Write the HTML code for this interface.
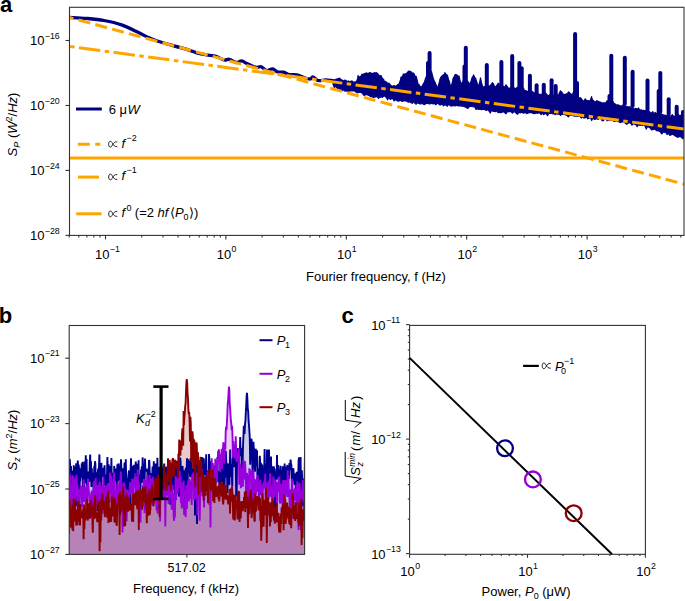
<!DOCTYPE html><html><head><meta charset="utf-8"><style>html,body{margin:0;padding:0;background:#fff;overflow:hidden;}svg{display:block;font-family:"Liberation Sans",sans-serif}</style></head><body><svg width="685" height="601" viewBox="0 0 685 601"><rect x="0" y="0" width="685" height="601" fill="#fff"/><text x="0.00" y="12.00" font-size="22" text-anchor="start" font-weight="bold" fill="#000">a</text><text x="-1.20" y="322.60" font-size="22" text-anchor="start" font-weight="bold" fill="#000">b</text><text x="341.50" y="322.80" font-size="22" text-anchor="start" font-weight="bold" fill="#000">c</text><svg x="69.5" y="7.3" width="614.5" height="228.1" viewBox="69.5 7.3 614.5 228.1" overflow="hidden"><path d="M69.50,17.40 C72.33,17.57 80.75,17.88 86.50,18.40 C92.25,18.92 98.15,19.42 104.00,20.50 C109.85,21.58 115.77,22.85 121.60,24.90 C127.43,26.95 134.63,30.75 139.00,32.80 C143.37,34.85 144.87,35.88 147.80,37.20 C150.73,38.52 152.23,39.25 156.60,40.70 C160.97,42.15 168.60,44.33 174.00,45.90 C179.40,47.47 185.03,48.88 189.00,50.10 C192.97,51.32 194.88,52.40 197.80,53.20 C200.72,54.00 203.58,54.42 206.50,54.90 C209.42,55.38 212.38,55.25 215.30,56.10 C218.22,56.95 221.67,59.47 224.00,60.00 C226.33,60.53 227.25,58.88 229.30,59.30 C231.35,59.72 234.25,62.23 236.30,62.50 C238.35,62.77 239.85,60.73 241.60,60.90 C243.35,61.07 244.77,62.52 246.80,63.50 C248.83,64.48 252.10,66.15 253.80,66.80 C255.50,67.45 255.75,67.40 257.00,67.40 C258.25,67.40 259.70,66.28 261.30,66.80 C262.90,67.32 264.73,70.17 266.60,70.50 C268.47,70.83 270.65,68.55 272.50,68.80 C274.35,69.05 275.83,71.43 277.70,72.00 C279.57,72.57 281.83,71.78 283.70,72.20 C285.57,72.62 286.72,74.07 288.90,74.50 C291.08,74.93 294.38,74.33 296.80,74.80 C299.22,75.27 301.20,76.60 303.40,77.30 C305.60,78.00 308.37,79.05 310.00,79.00 C311.63,78.95 311.90,76.75 313.20,77.00 C314.50,77.25 315.72,80.00 317.80,80.50 C319.88,81.00 323.50,80.00 325.70,80.00 C327.90,80.00 329.25,80.25 331.00,80.50 C332.75,80.75 335.33,81.33 336.20,81.50" fill="none" stroke="#000080" stroke-width="3.3" stroke-linecap="round" stroke-linejoin="round"/><polygon points="333.0,80.5 334.3,80.0 335.6,79.8 336.0,79.1 336.9,79.3 338.2,78.4 339.0,79.1 339.5,78.1 340.8,79.5 342.1,80.0 343.0,80.5 343.4,80.7 344.7,81.3 346.0,80.8 347.0,82.0 347.3,81.4 348.6,81.0 349.9,82.1 351.2,80.9 352.0,81.7 352.5,81.2 353.8,82.8 355.1,81.7 356.0,82.7 356.4,81.8 357.7,78.6 358.0,75.5 359.0,76.8 360.3,76.5 361.6,75.6 362.0,74.0 362.9,74.7 364.2,73.7 365.5,73.4 366.0,72.9 366.8,73.1 368.1,73.7 369.4,72.6 370.7,72.8 371.0,73.2 372.0,73.3 373.3,73.6 374.6,72.6 375.9,73.9 376.0,72.6 377.2,73.2 378.5,74.7 379.8,76.3 380.0,75.9 381.1,75.7 382.4,78.4 383.7,79.5 384.0,80.9 385.0,81.2 386.0,82.3 386.3,82.0 387.6,83.6 388.0,83.3 388.9,83.1 390.2,84.7 391.5,86.0 392.0,86.0 392.8,86.5 394.1,85.6 395.4,86.3 396.0,86.8 396.7,85.6 398.0,84.5 399.0,83.7 399.3,83.3 400.6,79.6 401.0,77.0 401.9,77.0 403.0,75.4 403.2,74.1 404.5,74.1 405.8,73.8 407.0,73.1 407.1,73.2 408.4,71.0 409.7,71.3 410.0,71.2 411.0,71.8 412.3,72.9 413.0,73.3 413.6,73.1 414.9,75.7 416.0,76.6 416.2,76.5 417.5,81.6 418.0,84.0 418.8,84.4 420.1,86.5 421.0,86.9 421.4,87.5 422.7,85.1 424.0,82.7 424.0,83.7 425.3,79.2 426.5,76.0 426.6,77.3 427.9,71.5 428.0,71.8 429.2,69.8 430.5,71.2 431.5,71.4 431.8,73.0 433.0,77.5 433.1,78.1 434.4,81.2 435.5,83.3 435.7,84.0 437.0,87.0 437.0,87.9 438.0,88.0 438.3,85.7 439.6,81.3 440.0,79.1 440.9,77.2 442.0,75.8 442.2,75.8 443.5,74.7 444.8,74.5 444.8,72.6 446.1,74.3 447.0,75.6 447.4,75.1 448.7,80.3 449.0,80.3 450.0,84.2 451.0,87.2 451.3,86.0 452.6,81.5 453.0,78.5 453.9,77.1 455.2,74.6 456.0,74.5 456.5,74.7 457.8,75.9 459.0,76.0 459.1,76.3 460.4,82.1 461.0,84.9 461.7,83.2 463.0,81.4 463.0,80.7 464.3,79.8 465.6,80.0 465.8,79.0 466.9,81.0 468.0,81.3 468.2,82.0 469.5,83.7 470.0,85.0 470.8,82.0 471.5,79.7 472.1,77.6 473.4,75.9 473.5,74.8 474.7,77.5 476.0,78.9 476.0,79.7 477.3,83.8 478.0,86.5 478.6,85.8 479.9,81.1 480.5,77.9 481.2,81.3 482.5,86.3 483.0,87.9 483.8,86.8 485.1,86.4 486.4,85.7 486.8,85.9 487.7,85.7 489.0,86.8 489.0,86.7 490.3,85.5 491.6,83.8 492.5,82.7 492.9,83.1 494.2,85.8 495.0,87.4 495.5,87.0 496.8,85.3 497.7,84.2 498.1,83.2 499.4,84.3 500.7,85.3 501.4,85.4 502.0,85.1 503.3,86.5 504.0,87.0 504.6,87.1 505.9,85.2 506.0,84.8 507.2,86.5 508.5,88.3 509.0,89.5 509.8,88.0 511.1,87.4 512.2,87.1 512.4,87.6 513.7,88.2 515.0,88.1 515.0,88.5 516.3,88.3 517.6,87.1 518.9,87.4 519.4,87.0 520.2,88.4 521.5,88.2 522.8,88.0 523.5,87.9 524.1,90.0 525.4,90.7 526.7,91.0 528.0,91.8 528.5,91.1 529.3,90.7 530.6,92.4 531.9,91.9 532.5,91.4 533.2,92.5 534.5,92.9 535.2,92.6 535.8,92.3 537.1,93.3 538.4,93.7 539.0,94.1 539.7,94.8 541.0,94.2 542.3,94.6 543.6,94.7 544.9,93.0 546.2,93.6 546.5,94.1 547.5,95.2 548.8,95.6 550.1,94.5 550.2,95.5 551.4,95.0 552.7,95.3 554.0,95.0 554.3,94.7 555.3,94.4 556.6,96.2 557.9,94.7 558.0,96.3 559.2,93.6 560.5,90.8 561.4,92.5 561.8,92.0 563.1,94.4 564.4,94.3 565.0,95.1 565.7,94.1 567.0,93.7 568.3,92.4 568.7,91.9 569.6,93.1 570.9,93.9 572.0,95.4 572.2,95.4 573.5,92.0 574.8,89.9 575.0,89.3 576.1,91.4 577.4,94.2 578.5,97.9 578.7,98.1 580.0,97.7 580.6,97.8 581.3,98.6 582.6,100.5 583.9,101.2 584.0,101.6 585.2,98.8 586.5,100.5 587.0,100.4 587.8,100.9 589.1,100.7 589.5,101.7 590.4,100.0 591.6,96.6 591.7,97.7 593.0,100.9 593.5,100.5 594.3,101.6 595.6,101.9 596.9,100.7 598.2,101.2 599.5,102.0 600.0,102.1 600.8,102.4 602.1,103.0 603.4,102.9 604.4,102.9 604.7,102.9 606.0,102.6 607.3,100.7 608.0,101.4 608.6,101.4 609.9,99.7 611.2,98.5 611.3,97.4 612.5,100.4 613.8,103.0 615.0,104.7 615.1,103.9 616.4,105.2 617.7,104.7 619.0,105.4 620.0,105.8 620.3,105.8 621.6,106.2 622.9,105.0 624.2,106.6 625.5,106.2 626.8,106.5 628.1,106.8 629.4,107.3 630.0,106.5 630.7,107.9 632.0,107.9 633.3,108.6 634.6,109.1 635.9,108.4 637.2,109.3 638.5,108.0 639.8,110.1 640.0,110.2 641.1,109.7 642.4,110.7 643.7,110.2 645.0,110.7 646.3,110.8 647.6,111.6 648.9,111.8 649.5,111.5 650.2,112.9 651.5,112.9 652.8,111.7 654.1,113.8 654.2,113.4 655.4,112.6 656.7,114.0 657.5,112.5 658.0,113.1 659.3,113.4 660.6,113.7 661.9,114.3 663.0,114.7 663.2,114.8 664.5,115.1 665.8,115.3 667.1,115.6 667.5,116.0 668.4,115.9 669.7,116.2 671.0,115.9 672.3,114.7 673.6,116.2 674.9,116.9 675.5,115.3 676.2,116.5 677.5,114.7 678.8,115.1 680.1,115.4 681.4,115.4 682.0,115.9 682.7,115.0 684.0,117.6 684.0,117.3 684.0,138.4 682.7,138.7 681.4,137.2 680.1,136.5 678.8,136.9 677.5,137.3 676.2,136.4 674.9,135.7 673.6,134.7 672.3,134.3 671.0,135.0 669.7,135.3 668.4,133.1 667.1,134.5 665.8,132.7 664.5,132.2 663.2,132.0 661.9,134.0 660.6,132.3 659.3,130.8 658.0,130.9 656.7,130.7 655.4,129.6 654.1,129.0 652.8,129.6 651.5,129.8 650.2,128.0 648.9,127.3 647.6,126.2 646.3,129.1 645.0,126.0 643.7,124.8 642.4,125.4 641.1,124.9 639.8,125.4 638.5,124.4 637.2,126.7 635.9,124.7 634.6,124.2 633.3,123.7 632.0,125.2 630.7,123.2 629.4,122.6 628.1,123.1 626.8,124.3 625.5,123.3 624.2,122.2 622.9,122.0 621.6,121.9 620.3,122.6 619.0,121.7 617.7,121.7 616.4,120.6 615.1,121.4 613.8,121.4 612.5,120.1 611.2,120.3 609.9,120.1 608.6,120.2 607.3,120.8 606.0,119.2 604.7,118.9 603.4,120.6 602.1,120.6 600.8,118.5 599.5,118.4 598.2,119.5 596.9,118.5 595.6,119.2 594.3,119.4 593.0,117.8 591.7,120.5 590.4,117.2 589.1,118.1 587.8,118.8 586.5,116.9 585.2,117.8 583.9,117.9 582.6,116.9 581.3,118.0 580.0,116.2 578.7,116.4 577.4,116.5 576.1,115.9 574.8,116.2 573.5,115.8 572.2,115.5 570.9,115.3 569.6,115.4 568.3,116.9 567.0,115.3 565.7,115.0 564.4,114.5 563.1,114.3 561.8,114.3 560.5,115.4 559.2,113.9 557.9,114.3 556.6,113.8 555.3,114.6 554.0,113.7 552.7,113.8 551.4,113.4 550.1,113.3 548.8,113.2 547.5,115.7 546.2,113.4 544.9,113.7 543.6,114.6 542.3,112.9 541.0,114.6 539.7,112.7 538.4,113.0 537.1,113.3 535.8,112.9 534.5,113.8 533.2,113.4 531.9,112.7 530.6,112.7 529.3,112.5 528.0,113.1 526.7,113.6 525.4,112.3 524.1,113.1 522.8,112.9 521.5,112.1 520.2,113.0 518.9,112.1 517.6,114.3 516.3,113.5 515.0,111.8 513.7,111.8 512.4,113.1 511.1,111.7 509.8,111.6 508.5,111.5 507.2,111.9 505.9,113.8 504.6,112.4 503.3,111.7 502.0,112.2 500.7,112.8 499.4,112.2 498.1,112.6 496.8,110.8 495.5,111.7 494.2,111.4 492.9,111.2 491.6,110.3 490.3,113.0 489.0,111.0 487.7,109.4 486.4,110.5 485.1,109.8 483.8,109.4 482.5,109.1 481.2,109.6 479.9,109.0 478.6,109.5 477.3,108.6 476.0,109.5 474.7,106.8 473.4,106.8 472.1,106.4 470.8,106.5 469.5,106.4 468.2,108.2 466.9,108.1 465.6,107.1 464.3,106.7 463.0,105.9 461.7,106.2 460.4,105.8 459.1,105.8 457.8,105.8 456.5,105.1 455.2,106.0 453.9,105.4 452.6,105.7 451.3,106.1 450.0,105.4 448.7,104.0 447.4,106.2 446.1,105.2 444.8,104.6 443.5,105.9 442.2,103.7 440.9,104.8 439.6,104.8 438.3,103.5 437.0,103.5 435.7,104.7 434.4,103.3 433.1,104.0 431.8,103.3 430.5,103.8 429.2,104.0 427.9,103.3 426.6,103.4 425.3,103.9 424.0,104.7 422.7,103.4 421.4,103.8 420.1,103.9 418.8,103.4 417.5,102.4 416.2,104.2 414.9,103.2 413.6,101.9 412.3,103.3 411.0,102.8 409.7,101.6 408.4,102.1 407.1,101.5 405.8,100.7 404.5,101.0 403.2,100.9 401.9,101.4 400.6,100.3 399.3,101.0 398.0,101.1 396.7,100.5 395.4,99.6 394.1,100.9 392.8,98.5 391.5,98.7 390.2,99.4 388.9,97.2 387.6,99.8 386.3,97.5 385.0,96.0 383.7,96.1 382.4,97.4 381.1,96.5 379.8,97.5 378.5,98.3 377.2,96.4 375.9,96.9 374.6,97.1 373.3,97.5 372.0,96.3 370.7,96.9 369.4,95.6 368.1,95.1 366.8,94.4 365.5,94.7 364.2,95.5 362.9,94.1 361.6,92.6 360.3,92.1 359.0,92.4 357.7,92.8 356.4,92.5 355.1,91.1 353.8,91.0 352.5,90.6 351.2,90.9 349.9,90.7 348.6,91.4 347.3,91.2 346.0,91.1 344.7,91.0 343.4,89.5 342.1,90.7 340.8,89.3 339.5,89.0 338.2,89.7 336.9,88.0 335.6,86.1 334.3,87.6 333.0,84.3" fill="#000080" stroke="#000080" stroke-width="1.2" stroke-linejoin="round"/><line x1="345" y1="81.45" x2="345" y2="84" stroke="#000080" stroke-width="4.0" stroke-linecap="round"/><line x1="429.6" y1="52.95" x2="429.6" y2="85" stroke="#000080" stroke-width="4.0" stroke-linecap="round"/><line x1="428" y1="62.95" x2="428" y2="80" stroke="#000080" stroke-width="4.0" stroke-linecap="round"/><line x1="465.8" y1="47.65" x2="465.8" y2="84" stroke="#000080" stroke-width="4.0" stroke-linecap="round"/><line x1="464.5" y1="66.45" x2="464.5" y2="80" stroke="#000080" stroke-width="4.0" stroke-linecap="round"/><line x1="486.8" y1="64.95" x2="486.8" y2="88" stroke="#000080" stroke-width="4.0" stroke-linecap="round"/><line x1="501.4" y1="61.95" x2="501.4" y2="88" stroke="#000080" stroke-width="4.0" stroke-linecap="round"/><line x1="512.2" y1="55.95" x2="512.2" y2="90" stroke="#000080" stroke-width="4.0" stroke-linecap="round"/><line x1="519.4" y1="62.95" x2="519.4" y2="90" stroke="#000080" stroke-width="4.0" stroke-linecap="round"/><line x1="521.7" y1="68.15" x2="521.7" y2="90" stroke="#000080" stroke-width="4.0" stroke-linecap="round"/><line x1="529.9" y1="75.65" x2="529.9" y2="92" stroke="#000080" stroke-width="4.0" stroke-linecap="round"/><line x1="536.6" y1="85.35" x2="536.6" y2="93" stroke="#000080" stroke-width="4.0" stroke-linecap="round"/><line x1="543.8" y1="84.65" x2="543.8" y2="95" stroke="#000080" stroke-width="4.0" stroke-linecap="round"/><line x1="551.6" y1="80.15" x2="551.6" y2="96" stroke="#000080" stroke-width="4.0" stroke-linecap="round"/><line x1="555.7" y1="85.95" x2="555.7" y2="96" stroke="#000080" stroke-width="4.0" stroke-linecap="round"/><line x1="575.1" y1="33.95" x2="575.1" y2="96" stroke="#000080" stroke-width="4.0" stroke-linecap="round"/><line x1="577" y1="82.95" x2="577" y2="96" stroke="#000080" stroke-width="4.0" stroke-linecap="round"/><line x1="611.3" y1="55.75" x2="611.3" y2="100" stroke="#000080" stroke-width="4.0" stroke-linecap="round"/><line x1="609.5" y1="95.95" x2="609.5" y2="100" stroke="#000080" stroke-width="4.0" stroke-linecap="round"/><line x1="624.8" y1="57.65" x2="624.8" y2="104" stroke="#000080" stroke-width="4.0" stroke-linecap="round"/><line x1="632.6" y1="71.75" x2="632.6" y2="106" stroke="#000080" stroke-width="4.0" stroke-linecap="round"/><line x1="647.5" y1="80.45" x2="647.5" y2="110" stroke="#000080" stroke-width="4.0" stroke-linecap="round"/><line x1="660.3" y1="72.95" x2="660.3" y2="112" stroke="#000080" stroke-width="4.0" stroke-linecap="round"/><line x1="658.7" y1="90.95" x2="658.7" y2="112" stroke="#000080" stroke-width="4.0" stroke-linecap="round"/><line x1="668.7" y1="99.15" x2="668.7" y2="114" stroke="#000080" stroke-width="4.0" stroke-linecap="round"/><line x1="676.7" y1="106.65" x2="676.7" y2="115" stroke="#000080" stroke-width="4.0" stroke-linecap="round"/><line x1="683" y1="111.95" x2="683" y2="115" stroke="#000080" stroke-width="4.0" stroke-linecap="round"/><line x1="69.5" y1="17.53" x2="684" y2="184.18" stroke="#ffa500" stroke-width="3" stroke-dasharray="12.05 5.33" stroke-dashoffset="7.95"/><line x1="69.5" y1="46.4" x2="684" y2="129.11" stroke="#ffa500" stroke-width="3" stroke-dasharray="21.5 4.46 4.46 4.46" stroke-dashoffset="25.3"/><line x1="69.50" y1="158.00" x2="684.00" y2="158.00" stroke="#ffa500" stroke-width="3" /></svg><rect x="69.5" y="7.3" width="614.5" height="228.1" fill="none" stroke="#333" stroke-width="1.1"/><line x1="69.26" y1="235.40" x2="69.26" y2="237.40" stroke="#333" stroke-width="1.1" /><line x1="78.79" y1="235.40" x2="78.79" y2="237.40" stroke="#333" stroke-width="1.1" /><line x1="86.85" y1="235.40" x2="86.85" y2="237.40" stroke="#333" stroke-width="1.1" /><line x1="93.83" y1="235.40" x2="93.83" y2="237.40" stroke="#333" stroke-width="1.1" /><line x1="99.99" y1="235.40" x2="99.99" y2="237.40" stroke="#333" stroke-width="1.1" /><line x1="105.50" y1="235.40" x2="105.50" y2="239.40" stroke="#333" stroke-width="1.1" /><line x1="141.74" y1="235.40" x2="141.74" y2="237.40" stroke="#333" stroke-width="1.1" /><line x1="162.95" y1="235.40" x2="162.95" y2="237.40" stroke="#333" stroke-width="1.1" /><line x1="177.99" y1="235.40" x2="177.99" y2="237.40" stroke="#333" stroke-width="1.1" /><line x1="189.66" y1="235.40" x2="189.66" y2="237.40" stroke="#333" stroke-width="1.1" /><line x1="199.19" y1="235.40" x2="199.19" y2="237.40" stroke="#333" stroke-width="1.1" /><line x1="207.25" y1="235.40" x2="207.25" y2="237.40" stroke="#333" stroke-width="1.1" /><line x1="214.23" y1="235.40" x2="214.23" y2="237.40" stroke="#333" stroke-width="1.1" /><line x1="220.39" y1="235.40" x2="220.39" y2="237.40" stroke="#333" stroke-width="1.1" /><line x1="225.90" y1="235.40" x2="225.90" y2="239.40" stroke="#333" stroke-width="1.1" /><line x1="262.14" y1="235.40" x2="262.14" y2="237.40" stroke="#333" stroke-width="1.1" /><line x1="283.35" y1="235.40" x2="283.35" y2="237.40" stroke="#333" stroke-width="1.1" /><line x1="298.39" y1="235.40" x2="298.39" y2="237.40" stroke="#333" stroke-width="1.1" /><line x1="310.06" y1="235.40" x2="310.06" y2="237.40" stroke="#333" stroke-width="1.1" /><line x1="319.59" y1="235.40" x2="319.59" y2="237.40" stroke="#333" stroke-width="1.1" /><line x1="327.65" y1="235.40" x2="327.65" y2="237.40" stroke="#333" stroke-width="1.1" /><line x1="334.63" y1="235.40" x2="334.63" y2="237.40" stroke="#333" stroke-width="1.1" /><line x1="340.79" y1="235.40" x2="340.79" y2="237.40" stroke="#333" stroke-width="1.1" /><line x1="346.30" y1="235.40" x2="346.30" y2="239.40" stroke="#333" stroke-width="1.1" /><line x1="382.54" y1="235.40" x2="382.54" y2="237.40" stroke="#333" stroke-width="1.1" /><line x1="403.75" y1="235.40" x2="403.75" y2="237.40" stroke="#333" stroke-width="1.1" /><line x1="418.79" y1="235.40" x2="418.79" y2="237.40" stroke="#333" stroke-width="1.1" /><line x1="430.46" y1="235.40" x2="430.46" y2="237.40" stroke="#333" stroke-width="1.1" /><line x1="439.99" y1="235.40" x2="439.99" y2="237.40" stroke="#333" stroke-width="1.1" /><line x1="448.05" y1="235.40" x2="448.05" y2="237.40" stroke="#333" stroke-width="1.1" /><line x1="455.03" y1="235.40" x2="455.03" y2="237.40" stroke="#333" stroke-width="1.1" /><line x1="461.19" y1="235.40" x2="461.19" y2="237.40" stroke="#333" stroke-width="1.1" /><line x1="466.70" y1="235.40" x2="466.70" y2="239.40" stroke="#333" stroke-width="1.1" /><line x1="502.94" y1="235.40" x2="502.94" y2="237.40" stroke="#333" stroke-width="1.1" /><line x1="524.15" y1="235.40" x2="524.15" y2="237.40" stroke="#333" stroke-width="1.1" /><line x1="539.19" y1="235.40" x2="539.19" y2="237.40" stroke="#333" stroke-width="1.1" /><line x1="550.86" y1="235.40" x2="550.86" y2="237.40" stroke="#333" stroke-width="1.1" /><line x1="560.39" y1="235.40" x2="560.39" y2="237.40" stroke="#333" stroke-width="1.1" /><line x1="568.45" y1="235.40" x2="568.45" y2="237.40" stroke="#333" stroke-width="1.1" /><line x1="575.43" y1="235.40" x2="575.43" y2="237.40" stroke="#333" stroke-width="1.1" /><line x1="581.59" y1="235.40" x2="581.59" y2="237.40" stroke="#333" stroke-width="1.1" /><line x1="587.10" y1="235.40" x2="587.10" y2="239.40" stroke="#333" stroke-width="1.1" /><line x1="623.34" y1="235.40" x2="623.34" y2="237.40" stroke="#333" stroke-width="1.1" /><line x1="644.55" y1="235.40" x2="644.55" y2="237.40" stroke="#333" stroke-width="1.1" /><line x1="659.59" y1="235.40" x2="659.59" y2="237.40" stroke="#333" stroke-width="1.1" /><line x1="671.26" y1="235.40" x2="671.26" y2="237.40" stroke="#333" stroke-width="1.1" /><line x1="680.79" y1="235.40" x2="680.79" y2="237.40" stroke="#333" stroke-width="1.1" /><text x="109.56" y="258.60" font-size="13" text-anchor="end" fill="#000">10</text><text x="109.86" y="252.30" font-size="8.8" text-anchor="start" fill="#000">−1</text><text x="231.13" y="258.60" font-size="13" text-anchor="end" fill="#000">10</text><text x="231.43" y="252.30" font-size="8.8" text-anchor="start" fill="#000">0</text><text x="351.53" y="258.60" font-size="13" text-anchor="end" fill="#000">10</text><text x="351.83" y="252.30" font-size="8.8" text-anchor="start" fill="#000">1</text><text x="471.93" y="258.60" font-size="13" text-anchor="end" fill="#000">10</text><text x="472.23" y="252.30" font-size="8.8" text-anchor="start" fill="#000">2</text><text x="592.33" y="258.60" font-size="13" text-anchor="end" fill="#000">10</text><text x="592.63" y="252.30" font-size="8.8" text-anchor="start" fill="#000">3</text><line x1="65.50" y1="40.50" x2="69.50" y2="40.50" stroke="#333" stroke-width="1.1" /><text x="44.50" y="45.00" font-size="13" text-anchor="end" fill="#000">10</text><text x="44.80" y="38.70" font-size="8.8" text-anchor="start" fill="#000">−16</text><line x1="65.50" y1="105.46" x2="69.50" y2="105.46" stroke="#333" stroke-width="1.1" /><text x="44.50" y="109.96" font-size="13" text-anchor="end" fill="#000">10</text><text x="44.80" y="103.66" font-size="8.8" text-anchor="start" fill="#000">−20</text><line x1="65.50" y1="170.42" x2="69.50" y2="170.42" stroke="#333" stroke-width="1.1" /><text x="44.50" y="174.92" font-size="13" text-anchor="end" fill="#000">10</text><text x="44.80" y="168.62" font-size="8.8" text-anchor="start" fill="#000">−24</text><line x1="65.50" y1="235.38" x2="69.50" y2="235.38" stroke="#333" stroke-width="1.1" /><text x="44.50" y="239.88" font-size="13" text-anchor="end" fill="#000">10</text><text x="44.80" y="233.58" font-size="8.8" text-anchor="start" fill="#000">−28</text><text x="376.00" y="281.00" font-size="13" text-anchor="middle" fill="#000">Fourier frequency, f (Hz)</text><g transform="translate(17,124.5) rotate(-90)"><text x="0" y="0" font-size="13" text-anchor="middle"><tspan font-style="italic">S</tspan><tspan font-size="9" dy="3" font-style="italic">P</tspan><tspan dy="-3"> (</tspan><tspan font-style="italic">W</tspan><tspan font-size="9" dy="-5">2</tspan><tspan dy="5">/</tspan><tspan font-style="italic">Hz</tspan>)</text></g><line x1="76.00" y1="109.00" x2="101.80" y2="109.00" stroke="#000080" stroke-width="3" /><text x="108.70" y="114.00" font-size="13" text-anchor="start" fill="#000">6 μ</text><text x="127.50" y="114.00" font-size="13" text-anchor="start" font-style="italic" fill="#000">W</text><line x1="77.8" y1="144.3" x2="101" y2="144.3" stroke="#ffa500" stroke-width="3" stroke-dasharray="12 5.5 5 100"/><path d="M117.30,141.80 C114.55,141.40 113.69,143.33 113.00,144.20 S111.71,147.10 110.42,147.10 C109.13,147.10 108.70,145.65 108.70,144.20 C108.70,142.75 109.13,141.30 110.42,141.30 C111.71,141.30 112.31,143.33 113.00,144.20 S114.55,147.00 117.30,146.60" fill="none" stroke="#000" stroke-width="0.85"/><text x="121.50" y="147.50" font-size="13" text-anchor="start" font-style="italic" fill="#000">f</text><text x="126.50" y="141.30" font-size="9" text-anchor="start" fill="#000">−2</text><line x1="78.00" y1="177.10" x2="99.00" y2="177.10" stroke="#ffa500" stroke-width="3" /><path d="M117.30,174.60 C114.55,174.20 113.69,176.13 113.00,177.00 S111.71,179.90 110.42,179.90 C109.13,179.90 108.70,178.45 108.70,177.00 C108.70,175.55 109.13,174.10 110.42,174.10 C111.71,174.10 112.31,176.13 113.00,177.00 S114.55,179.80 117.30,179.40" fill="none" stroke="#000" stroke-width="0.85"/><text x="121.50" y="179.50" font-size="13" text-anchor="start" font-style="italic" fill="#000">f</text><text x="126.50" y="173.30" font-size="9" text-anchor="start" fill="#000">−1</text><line x1="76.20" y1="213.80" x2="101.60" y2="213.80" stroke="#ffa500" stroke-width="3" /><path d="M117.30,211.50 C114.55,211.10 113.69,213.03 113.00,213.90 S111.71,216.80 110.42,216.80 C109.13,216.80 108.70,215.35 108.70,213.90 C108.70,212.45 109.13,211.00 110.42,211.00 C111.71,211.00 112.31,213.03 113.00,213.90 S114.55,216.70 117.30,216.30" fill="none" stroke="#000" stroke-width="0.85"/><text x="121.50" y="217.00" font-size="13" text-anchor="start" font-style="italic" fill="#000">f</text><text x="126.50" y="210.80" font-size="9" text-anchor="start" fill="#000">0</text><text x="134.80" y="217.00" font-size="13" text-anchor="start" fill="#000">(=2 </text><text x="157.50" y="217.00" font-size="13" text-anchor="start" font-style="italic" fill="#000">hf</text><text x="170.00" y="217.00" font-size="13" text-anchor="start" fill="#000">⟨</text><text x="175.00" y="217.00" font-size="13" text-anchor="start" font-style="italic" fill="#000">P</text><text x="183.50" y="220.00" font-size="9" text-anchor="start" fill="#000">0</text><text x="189.00" y="217.00" font-size="13" text-anchor="start" fill="#000">⟩)</text><svg x="69.2" y="325.5" width="235.40000000000003" height="228.89999999999998" viewBox="69.2 325.5 235.40000000000003 228.89999999999998" overflow="hidden"><polygon points="67.8,559.4 67.8,474.8 68.2,462.1 68.6,479.2 69.0,468.6 69.4,466.8 69.8,459.0 70.2,467.4 70.6,480.3 71.0,466.0 71.4,477.2 71.8,488.0 72.2,470.6 72.6,511.1 73.0,481.6 73.4,500.1 73.8,465.2 74.2,485.9 74.6,467.1 75.0,468.9 75.4,478.0 75.8,471.1 76.2,463.3 76.6,484.6 77.0,506.0 77.4,469.1 77.8,460.6 78.2,468.0 78.6,464.6 79.0,468.1 79.4,506.8 79.8,478.5 80.2,481.2 80.6,471.1 81.0,468.3 81.4,469.5 81.8,463.4 82.2,477.6 82.6,461.8 83.0,502.0 83.4,469.8 83.8,490.3 84.2,495.2 84.6,461.4 85.0,479.3 85.4,472.3 85.8,455.3 86.2,483.2 86.6,458.9 87.0,485.9 87.4,475.5 87.8,485.7 88.2,471.5 88.6,478.1 89.0,481.9 89.4,477.7 89.8,461.1 90.2,454.6 90.6,481.5 91.0,461.2 91.4,487.1 91.8,468.3 92.2,478.8 92.6,472.9 93.0,475.0 93.4,480.9 93.8,518.0 94.2,466.2 94.6,468.5 95.0,461.2 95.4,464.0 95.8,485.1 96.2,481.9 96.6,482.8 97.0,472.2 97.4,511.2 97.8,472.5 98.2,468.5 98.6,485.5 99.0,466.6 99.4,454.4 99.8,470.6 100.2,468.7 100.6,472.8 101.0,500.3 101.4,462.9 101.8,473.7 102.2,468.1 102.6,471.5 103.0,474.1 103.4,477.4 103.8,470.6 104.2,468.5 104.6,465.3 105.0,485.7 105.4,483.0 105.8,483.2 106.2,487.5 106.6,474.7 107.0,475.1 107.4,457.1 107.8,469.6 108.2,499.1 108.6,464.2 109.0,472.1 109.4,474.2 109.8,471.2 110.2,467.9 110.6,466.3 111.0,491.9 111.4,457.9 111.8,482.3 112.2,481.4 112.6,474.1 113.0,472.9 113.4,485.1 113.8,500.6 114.2,465.9 114.6,475.5 115.0,478.7 115.4,473.4 115.8,481.0 116.2,468.6 116.6,499.7 117.0,478.0 117.4,464.3 117.8,480.8 118.2,464.7 118.6,463.7 119.0,466.8 119.4,466.1 119.8,515.6 120.2,468.2 120.6,470.8 121.0,459.2 121.4,469.3 121.8,493.8 122.2,471.0 122.6,468.2 123.0,510.5 123.4,472.0 123.8,473.2 124.2,469.7 124.6,462.5 125.0,471.7 125.4,491.2 125.8,459.3 126.2,478.9 126.6,481.8 127.0,484.6 127.4,502.0 127.8,482.2 128.2,478.1 128.6,473.3 129.0,470.5 129.4,495.5 129.8,479.3 130.2,508.0 130.6,469.8 131.0,458.4 131.4,473.1 131.8,486.2 132.2,475.6 132.6,465.7 133.0,486.0 133.4,488.0 133.8,477.4 134.2,464.8 134.6,472.9 135.0,471.1 135.4,468.9 135.8,461.5 136.2,476.2 136.6,483.0 137.0,468.6 137.4,463.7 137.8,470.7 138.2,478.2 138.6,460.2 139.0,520.0 139.4,474.8 139.8,476.8 140.2,500.2 140.6,481.2 141.0,469.7 141.4,471.4 141.8,466.5 142.2,482.7 142.6,457.4 143.0,464.2 143.4,483.0 143.8,473.7 144.2,468.0 144.6,483.4 145.0,458.6 145.4,470.0 145.8,470.0 146.2,470.8 146.6,470.9 147.0,470.7 147.4,468.8 147.8,486.9 148.2,478.1 148.6,475.7 149.0,459.9 149.4,461.6 149.8,476.6 150.2,478.8 150.6,473.8 151.0,475.6 151.4,473.1 151.8,495.1 152.2,476.1 152.6,466.6 153.0,484.8 153.4,477.5 153.8,461.3 154.2,485.9 154.6,500.5 155.0,464.7 155.4,481.0 155.8,463.6 156.2,481.3 156.6,469.8 157.0,479.2 157.4,457.8 157.8,477.6 158.2,510.0 158.6,491.2 159.0,466.9 159.4,477.6 159.8,467.0 160.2,485.5 160.6,466.8 161.0,464.7 161.4,472.3 161.8,466.2 162.2,473.9 162.6,494.6 163.0,480.7 163.4,476.4 163.8,471.2 164.2,463.6 164.6,470.8 165.0,479.4 165.4,472.4 165.8,466.7 166.2,472.1 166.6,490.3 167.0,470.8 167.4,485.7 167.8,466.2 168.2,463.6 168.6,476.5 169.0,475.5 169.4,494.8 169.8,486.3 170.2,504.8 170.6,468.1 171.0,463.3 171.4,501.4 171.8,481.3 172.2,462.8 172.6,475.3 173.0,489.1 173.4,487.9 173.8,470.9 174.2,463.2 174.6,482.8 175.0,496.7 175.4,463.8 175.8,463.2 176.2,477.8 176.6,480.0 177.0,460.9 177.4,483.5 177.8,468.0 178.2,473.1 178.6,473.0 179.0,496.6 179.4,488.5 179.8,490.3 180.2,457.6 180.6,461.3 181.0,492.1 181.4,489.6 181.8,492.8 182.2,468.2 182.6,466.0 183.0,486.3 183.4,507.3 183.8,503.8 184.2,507.0 184.6,470.2 185.0,483.2 185.4,473.5 185.8,467.8 186.2,494.3 186.6,470.7 187.0,458.2 187.4,489.0 187.8,474.2 188.2,459.2 188.6,471.0 189.0,461.1 189.4,462.6 189.8,473.0 190.2,477.2 190.6,458.0 191.0,476.4 191.4,461.8 191.8,475.2 192.2,468.6 192.6,481.1 193.0,479.8 193.4,476.1 193.8,475.1 194.2,452.9 194.6,471.1 195.0,515.5 195.4,493.2 195.8,451.6 196.2,461.7 196.6,457.9 197.0,523.9 197.4,472.4 197.8,462.5 198.2,462.3 198.6,485.6 199.0,465.1 199.4,465.0 199.8,465.5 200.2,480.5 200.6,471.7 201.0,478.2 201.4,466.8 201.8,457.1 202.2,492.1 202.6,457.5 203.0,487.6 203.4,484.3 203.8,458.3 204.2,472.7 204.6,475.2 205.0,464.6 205.4,473.1 205.8,469.4 206.2,454.2 206.6,491.1 207.0,487.6 207.4,470.4 207.8,485.2 208.2,482.5 208.6,484.5 209.0,454.1 209.4,458.7 209.8,476.2 210.2,468.8 210.6,463.4 211.0,461.2 211.4,490.1 211.8,471.9 212.2,478.3 212.6,463.1 213.0,473.0 213.4,476.3 213.8,498.0 214.2,487.8 214.6,482.3 215.0,465.4 215.4,483.3 215.8,480.2 216.2,472.2 216.6,478.1 217.0,471.0 217.4,457.0 217.8,481.4 218.2,470.8 218.6,481.6 219.0,471.2 219.4,486.6 219.8,490.6 220.2,467.3 220.6,465.3 221.0,488.7 221.4,491.9 221.8,496.4 222.2,482.3 222.6,449.4 223.0,492.6 223.4,460.1 223.8,497.1 224.2,460.3 224.6,484.1 225.0,459.4 225.4,477.4 225.8,451.0 226.2,461.5 226.6,464.4 227.0,468.5 227.4,492.9 227.8,476.2 228.2,463.4 228.6,485.3 229.0,472.7 229.4,484.5 229.8,464.9 230.2,449.6 230.6,472.9 231.0,464.3 231.4,477.0 231.8,467.3 232.2,486.6 232.6,458.5 233.0,463.1 233.4,444.4 233.8,456.9 234.2,467.3 234.6,456.1 235.0,463.4 235.4,465.7 235.8,454.1 236.2,496.1 236.6,495.8 237.0,464.5 237.4,460.8 237.8,448.1 238.2,459.8 238.6,462.6 239.0,449.6 239.4,453.9 239.8,456.1 240.2,437.1 240.6,453.6 241.0,448.3 241.4,448.8 241.8,477.2 242.2,469.6 242.6,466.6 243.0,446.8 243.4,436.8 243.8,425.8 244.2,433.8 244.6,433.0 245.0,424.1 245.4,421.2 245.8,412.5 246.2,405.7 246.6,396.9 247.0,392.8 247.4,399.4 247.8,409.2 248.2,411.7 248.6,420.7 249.0,425.2 249.4,431.3 249.8,438.5 250.2,464.7 250.6,456.1 251.0,454.8 251.4,438.7 251.8,441.9 252.2,451.2 252.6,477.0 253.0,454.2 253.4,441.7 253.8,448.2 254.2,450.7 254.6,465.1 255.0,471.8 255.4,457.0 255.8,448.7 256.2,465.7 256.6,457.8 257.0,450.2 257.4,475.9 257.8,469.0 258.2,491.6 258.6,480.6 259.0,502.4 259.4,469.4 259.8,455.8 260.2,462.2 260.6,466.1 261.0,463.0 261.4,491.5 261.8,484.6 262.2,464.6 262.6,478.6 263.0,478.5 263.4,472.5 263.8,483.4 264.2,469.8 264.6,449.0 265.0,469.6 265.4,476.0 265.8,464.8 266.2,466.8 266.6,506.4 267.0,449.6 267.4,472.7 267.8,492.3 268.2,462.4 268.6,463.7 269.0,449.6 269.4,494.5 269.8,457.5 270.2,461.1 270.6,491.2 271.0,456.6 271.4,478.8 271.8,491.1 272.2,466.2 272.6,496.7 273.0,472.9 273.4,473.5 273.8,466.4 274.2,470.6 274.6,468.7 275.0,515.4 275.4,477.0 275.8,475.6 276.2,471.0 276.6,479.7 277.0,455.1 277.4,478.2 277.8,469.2 278.2,465.0 278.6,470.2 279.0,489.1 279.4,478.7 279.8,470.4 280.2,484.0 280.6,465.7 281.0,471.2 281.4,471.4 281.8,496.1 282.2,476.4 282.6,479.9 283.0,466.2 283.4,482.6 283.8,477.9 284.2,478.8 284.6,463.6 285.0,488.9 285.4,483.5 285.8,492.4 286.2,466.4 286.6,487.8 287.0,472.8 287.4,464.9 287.8,495.5 288.2,470.8 288.6,470.7 289.0,478.7 289.4,463.1 289.8,470.2 290.2,466.4 290.6,459.5 291.0,464.0 291.4,465.0 291.8,481.8 292.2,469.6 292.6,476.2 293.0,471.8 293.4,468.2 293.8,478.3 294.2,481.2 294.6,485.0 295.0,474.4 295.4,473.8 295.8,491.6 296.2,500.0 296.6,472.7 297.0,472.2 297.4,493.3 297.8,479.8 298.2,477.2 298.6,460.5 299.0,457.4 299.4,483.4 299.8,469.4 300.2,464.7 300.6,457.1 301.0,494.5 301.4,480.0 301.8,470.3 302.2,479.5 302.6,478.6 303.0,506.3 303.4,498.9 303.8,483.7 304.2,490.7 304.6,477.9 305.0,451.6 305.4,484.2 305.8,478.3 306.2,500.1 306.2,559.4" fill="#000090" fill-opacity="0.2" stroke="none"/><polygon points="68.1,559.4 68.1,512.3 68.5,510.7 68.9,483.9 69.3,497.3 69.7,488.3 70.1,474.4 70.5,478.5 70.9,504.1 71.3,508.3 71.7,491.1 72.1,485.1 72.5,500.9 72.9,475.3 73.3,504.4 73.7,476.7 74.1,481.8 74.5,495.6 74.9,499.6 75.3,489.3 75.7,502.0 76.1,483.4 76.5,474.8 76.9,484.5 77.3,487.5 77.7,488.1 78.1,513.0 78.5,506.8 78.9,489.2 79.3,503.9 79.7,498.2 80.1,491.2 80.5,489.4 80.9,485.7 81.3,487.2 81.7,488.8 82.1,507.6 82.5,487.2 82.9,499.8 83.3,487.8 83.7,479.5 84.1,501.6 84.5,494.3 84.9,490.7 85.3,491.5 85.7,510.5 86.1,486.2 86.5,493.2 86.9,492.5 87.3,501.3 87.7,483.9 88.1,478.7 88.5,486.1 88.9,492.8 89.3,493.1 89.7,500.5 90.1,518.8 90.5,506.1 90.9,498.3 91.3,497.5 91.7,490.5 92.1,512.2 92.5,506.9 92.9,502.1 93.3,503.3 93.7,491.1 94.1,481.8 94.5,481.7 94.9,499.4 95.3,496.4 95.7,477.9 96.1,501.1 96.5,505.7 96.9,493.2 97.3,485.1 97.7,494.0 98.1,494.9 98.5,490.5 98.9,505.1 99.3,483.9 99.7,482.0 100.1,491.2 100.5,490.8 100.9,503.6 101.3,485.8 101.7,497.7 102.1,501.5 102.5,513.9 102.9,497.0 103.3,476.8 103.7,487.1 104.1,500.5 104.5,496.0 104.9,514.4 105.3,490.4 105.7,486.2 106.1,496.7 106.5,485.6 106.9,505.0 107.3,497.1 107.7,487.3 108.1,483.2 108.5,498.3 108.9,489.1 109.3,497.1 109.7,502.4 110.1,472.6 110.5,490.3 110.9,494.9 111.3,475.8 111.7,478.5 112.1,503.5 112.5,498.2 112.9,482.1 113.3,487.6 113.7,488.2 114.1,472.6 114.5,490.0 114.9,498.3 115.3,497.3 115.7,501.5 116.1,489.5 116.5,510.8 116.9,497.6 117.3,483.6 117.7,493.2 118.1,487.6 118.5,504.6 118.9,503.4 119.3,485.7 119.7,480.3 120.1,498.4 120.5,480.4 120.9,471.6 121.3,488.2 121.7,508.1 122.1,484.4 122.5,532.6 122.9,484.5 123.3,488.9 123.7,482.4 124.1,492.9 124.5,484.3 124.9,509.5 125.3,487.7 125.7,512.1 126.1,497.4 126.5,521.4 126.9,509.2 127.3,489.7 127.7,492.2 128.1,496.3 128.5,502.4 128.9,491.3 129.3,498.0 129.7,489.2 130.1,482.4 130.5,486.2 130.9,485.0 131.3,492.7 131.7,493.3 132.1,478.9 132.5,486.4 132.9,487.4 133.3,502.7 133.7,488.7 134.1,479.8 134.5,478.3 134.9,480.0 135.3,479.3 135.7,476.7 136.1,496.7 136.5,502.0 136.9,478.7 137.3,482.3 137.7,469.5 138.1,483.5 138.5,499.0 138.9,482.0 139.3,492.7 139.7,518.3 140.1,512.9 140.5,522.6 140.9,497.9 141.3,496.0 141.7,495.3 142.1,498.9 142.5,496.0 142.9,485.2 143.3,507.0 143.7,478.9 144.1,480.7 144.5,513.2 144.9,486.7 145.3,509.7 145.7,494.0 146.1,479.9 146.5,505.7 146.9,492.8 147.3,474.7 147.7,493.1 148.1,487.8 148.5,494.6 148.9,488.6 149.3,495.4 149.7,475.0 150.1,484.9 150.5,510.5 150.9,478.7 151.3,482.3 151.7,493.1 152.1,504.8 152.5,490.6 152.9,476.7 153.3,506.6 153.7,482.2 154.1,492.6 154.5,498.6 154.9,483.4 155.3,486.7 155.7,502.2 156.1,491.6 156.5,510.2 156.9,496.3 157.3,508.9 157.7,513.7 158.1,506.9 158.5,505.7 158.9,492.7 159.3,497.0 159.7,482.2 160.1,521.5 160.5,481.4 160.9,486.8 161.3,480.2 161.7,481.5 162.1,495.9 162.5,498.0 162.9,483.9 163.3,499.9 163.7,479.6 164.1,488.5 164.5,482.5 164.9,480.5 165.3,526.6 165.7,495.7 166.1,492.0 166.5,495.3 166.9,492.3 167.3,493.0 167.7,485.9 168.1,490.0 168.5,503.7 168.9,501.5 169.3,487.6 169.7,484.9 170.1,498.1 170.5,486.6 170.9,478.5 171.3,497.8 171.7,509.8 172.1,485.0 172.5,485.8 172.9,499.0 173.3,493.5 173.7,516.2 174.1,520.8 174.5,499.1 174.9,517.5 175.3,493.7 175.7,475.9 176.1,500.3 176.5,478.2 176.9,494.3 177.3,490.4 177.7,493.8 178.1,477.6 178.5,479.7 178.9,487.6 179.3,486.3 179.7,470.8 180.1,484.5 180.5,476.4 180.9,503.1 181.3,484.7 181.7,508.5 182.1,482.7 182.5,493.3 182.9,505.4 183.3,488.2 183.7,480.6 184.1,514.9 184.5,502.1 184.9,489.8 185.3,512.0 185.7,517.0 186.1,486.9 186.5,485.0 186.9,509.1 187.3,488.6 187.7,491.4 188.1,480.5 188.5,487.1 188.9,501.5 189.3,478.5 189.7,486.0 190.1,490.6 190.5,480.6 190.9,499.1 191.3,482.0 191.7,505.0 192.1,479.6 192.5,474.1 192.9,488.5 193.3,472.5 193.7,481.1 194.1,499.1 194.5,499.8 194.9,483.4 195.3,498.2 195.7,472.8 196.1,491.2 196.5,497.5 196.9,472.8 197.3,515.0 197.7,483.0 198.1,472.1 198.5,478.1 198.9,485.7 199.3,476.4 199.7,520.7 200.1,500.8 200.5,483.1 200.9,486.3 201.3,483.8 201.7,468.9 202.1,477.7 202.5,496.2 202.9,489.0 203.3,483.8 203.7,487.4 204.1,507.6 204.5,485.1 204.9,481.8 205.3,482.0 205.7,482.7 206.1,481.8 206.5,481.0 206.9,480.5 207.3,482.1 207.7,471.8 208.1,489.9 208.5,480.6 208.9,485.6 209.3,504.9 209.7,489.1 210.1,484.3 210.5,527.6 210.9,478.3 211.3,492.4 211.7,458.2 212.1,481.3 212.5,479.6 212.9,464.6 213.3,475.9 213.7,469.4 214.1,475.0 214.5,483.1 214.9,485.4 215.3,458.8 215.7,466.9 216.1,480.9 216.5,472.7 216.9,482.2 217.3,462.2 217.7,462.1 218.1,450.9 218.5,459.7 218.9,449.3 219.3,453.1 219.7,466.0 220.1,472.1 220.5,458.6 220.9,454.2 221.3,462.6 221.7,448.8 222.1,469.1 222.5,451.7 222.9,450.7 223.3,443.1 223.7,443.2 224.1,456.2 224.5,463.7 224.9,444.1 225.3,449.4 225.7,431.4 226.1,426.9 226.5,430.0 226.9,422.7 227.3,414.9 227.7,404.3 228.1,400.1 228.5,393.8 228.9,386.6 229.3,389.7 229.7,403.0 230.1,407.6 230.5,414.8 230.9,420.8 231.3,423.9 231.7,430.3 232.1,425.8 232.5,435.7 232.9,456.9 233.3,441.0 233.7,448.0 234.1,447.0 234.5,448.8 234.9,458.4 235.3,456.1 235.7,436.2 236.1,448.4 236.5,461.5 236.9,461.2 237.3,452.4 237.7,458.0 238.1,457.0 238.5,457.8 238.9,448.5 239.3,484.7 239.7,463.7 240.1,465.6 240.5,478.5 240.9,488.3 241.3,473.6 241.7,483.6 242.1,468.3 242.5,471.7 242.9,486.8 243.3,459.8 243.7,465.1 244.1,461.6 244.5,479.6 244.9,461.2 245.3,465.5 245.7,477.2 246.1,501.1 246.5,493.8 246.9,473.0 247.3,475.9 247.7,486.3 248.1,505.5 248.5,476.7 248.9,493.8 249.3,469.3 249.7,469.4 250.1,474.6 250.5,471.5 250.9,470.3 251.3,499.6 251.7,481.1 252.1,503.2 252.5,487.8 252.9,474.4 253.3,470.0 253.7,477.7 254.1,498.0 254.5,493.6 254.9,479.4 255.3,489.4 255.7,495.1 256.1,492.2 256.5,488.1 256.9,476.3 257.3,484.2 257.7,475.2 258.1,488.3 258.5,489.0 258.9,482.6 259.3,499.7 259.7,489.4 260.1,479.8 260.5,484.0 260.9,491.2 261.3,494.9 261.7,484.8 262.1,490.3 262.5,498.6 262.9,488.4 263.3,485.9 263.7,488.6 264.1,481.6 264.5,483.9 264.9,481.4 265.3,473.8 265.7,506.2 266.1,501.2 266.5,488.9 266.9,483.8 267.3,482.5 267.7,490.0 268.1,487.2 268.5,499.9 268.9,480.8 269.3,496.8 269.7,481.6 270.1,473.4 270.5,489.2 270.9,485.0 271.3,497.5 271.7,490.0 272.1,492.9 272.5,500.8 272.9,492.2 273.3,476.4 273.7,486.3 274.1,481.9 274.5,497.0 274.9,494.7 275.3,479.3 275.7,492.8 276.1,486.7 276.5,484.0 276.9,507.2 277.3,482.1 277.7,492.1 278.1,488.2 278.5,488.3 278.9,477.5 279.3,477.4 279.7,500.6 280.1,503.4 280.5,502.4 280.9,484.9 281.3,484.1 281.7,493.1 282.1,484.5 282.5,508.8 282.9,480.3 283.3,492.5 283.7,500.9 284.1,491.0 284.5,480.0 284.9,511.2 285.3,480.8 285.7,482.0 286.1,486.4 286.5,493.4 286.9,479.8 287.3,497.1 287.7,470.6 288.1,488.5 288.5,475.5 288.9,497.3 289.3,491.9 289.7,504.9 290.1,507.2 290.5,491.7 290.9,489.4 291.3,499.6 291.7,485.2 292.1,478.8 292.5,490.9 292.9,490.7 293.3,519.1 293.7,500.4 294.1,498.7 294.5,490.8 294.9,488.3 295.3,492.5 295.7,500.8 296.1,497.4 296.5,484.6 296.9,514.4 297.3,481.3 297.7,492.4 298.1,506.3 298.5,529.9 298.9,501.6 299.3,486.2 299.7,483.0 300.1,505.6 300.5,500.7 300.9,530.6 301.3,499.6 301.7,492.6 302.1,491.7 302.5,490.3 302.9,480.1 303.3,501.6 303.7,494.5 304.1,487.0 304.5,508.1 304.9,494.4 305.3,489.2 305.7,487.6 306.1,499.1 306.5,507.6 306.5,559.4" fill="#9900dd" fill-opacity="0.2" stroke="none"/><polygon points="68.0,559.4 68.0,511.0 68.4,509.3 68.8,534.0 69.2,515.6 69.6,499.5 70.0,526.8 70.4,505.5 70.8,512.0 71.2,527.7 71.6,509.3 72.0,519.4 72.4,529.6 72.8,505.8 73.2,531.3 73.6,498.4 74.0,506.8 74.4,516.0 74.8,521.4 75.2,499.8 75.6,516.2 76.0,520.7 76.4,525.7 76.8,517.0 77.2,509.5 77.6,524.9 78.0,505.9 78.4,500.8 78.8,519.5 79.2,521.0 79.6,511.7 80.0,525.5 80.4,504.1 80.8,511.0 81.2,514.1 81.6,518.5 82.0,511.5 82.4,512.5 82.8,515.2 83.2,508.2 83.6,539.3 84.0,504.5 84.4,529.1 84.8,507.8 85.2,520.5 85.6,517.3 86.0,518.5 86.4,516.8 86.8,513.6 87.2,498.7 87.6,520.6 88.0,518.2 88.4,512.3 88.8,504.4 89.2,504.2 89.6,517.6 90.0,517.9 90.4,504.9 90.8,516.6 91.2,500.3 91.6,513.8 92.0,510.0 92.4,519.4 92.8,532.7 93.2,505.2 93.6,510.5 94.0,519.3 94.4,504.5 94.8,514.7 95.2,494.9 95.6,506.7 96.0,518.5 96.4,514.1 96.8,512.4 97.2,522.0 97.6,521.5 98.0,512.4 98.4,514.5 98.8,505.9 99.2,501.1 99.6,551.2 100.0,510.7 100.4,542.3 100.8,499.7 101.2,520.6 101.6,501.7 102.0,495.9 102.4,493.6 102.8,505.6 103.2,510.1 103.6,501.6 104.0,503.1 104.4,509.1 104.8,517.1 105.2,505.5 105.6,502.4 106.0,497.7 106.4,496.8 106.8,512.8 107.2,517.6 107.6,495.5 108.0,490.4 108.4,522.9 108.8,499.8 109.2,520.7 109.6,521.7 110.0,507.6 110.4,508.5 110.8,521.6 111.2,520.5 111.6,496.3 112.0,498.9 112.4,511.1 112.8,516.4 113.2,506.4 113.6,499.5 114.0,498.1 114.4,522.5 114.8,499.7 115.2,503.8 115.6,503.4 116.0,517.6 116.4,523.6 116.8,525.8 117.2,507.5 117.6,503.9 118.0,506.4 118.4,502.1 118.8,494.8 119.2,501.9 119.6,534.9 120.0,491.7 120.4,495.9 120.8,512.6 121.2,495.0 121.6,510.4 122.0,505.3 122.4,495.2 122.8,495.5 123.2,486.2 123.6,507.0 124.0,526.6 124.4,503.2 124.8,497.7 125.2,525.9 125.6,501.3 126.0,495.3 126.4,501.2 126.8,493.7 127.2,506.1 127.6,511.7 128.0,510.7 128.4,496.9 128.8,499.1 129.2,507.6 129.6,509.8 130.0,510.1 130.4,504.1 130.8,509.9 131.2,507.7 131.6,506.9 132.0,521.4 132.4,495.2 132.8,494.9 133.2,521.9 133.6,494.1 134.0,494.2 134.4,494.0 134.8,497.1 135.2,505.1 135.6,492.8 136.0,503.9 136.4,491.1 136.8,497.1 137.2,509.1 137.6,495.3 138.0,498.3 138.4,489.6 138.8,529.9 139.2,496.1 139.6,508.3 140.0,495.0 140.4,494.7 140.8,489.7 141.2,499.7 141.6,497.2 142.0,509.7 142.4,503.0 142.8,487.8 143.2,501.4 143.6,487.1 144.0,490.4 144.4,500.2 144.8,489.3 145.2,503.1 145.6,486.2 146.0,508.7 146.4,494.8 146.8,523.3 147.2,496.7 147.6,504.3 148.0,514.6 148.4,491.7 148.8,515.7 149.2,495.1 149.6,488.8 150.0,514.5 150.4,494.4 150.8,500.4 151.2,496.5 151.6,502.4 152.0,484.4 152.4,501.2 152.8,495.0 153.2,493.0 153.6,505.9 154.0,499.5 154.4,487.6 154.8,498.2 155.2,478.7 155.6,487.7 156.0,478.1 156.4,483.8 156.8,498.2 157.2,478.3 157.6,485.5 158.0,476.9 158.4,474.6 158.8,499.6 159.2,493.3 159.6,516.9 160.0,488.7 160.4,481.2 160.8,477.2 161.2,485.2 161.6,488.4 162.0,481.4 162.4,478.3 162.8,483.8 163.2,481.5 163.6,489.7 164.0,465.6 164.4,479.8 164.8,481.8 165.2,473.4 165.6,472.8 166.0,483.5 166.4,491.3 166.8,477.8 167.2,486.9 167.6,478.1 168.0,458.3 168.4,472.0 168.8,463.5 169.2,482.1 169.6,460.0 170.0,463.0 170.4,474.1 170.8,490.8 171.2,469.0 171.6,476.5 172.0,477.4 172.4,459.4 172.8,459.1 173.2,458.2 173.6,471.1 174.0,476.5 174.4,467.9 174.8,459.7 175.2,463.4 175.6,460.2 176.0,467.9 176.4,462.4 176.8,462.8 177.2,469.2 177.6,463.7 178.0,478.0 178.4,453.5 178.8,466.5 179.2,439.5 179.6,449.6 180.0,442.1 180.4,455.7 180.8,440.6 181.2,444.6 181.6,449.9 182.0,433.7 182.4,428.2 182.8,439.3 183.2,445.7 183.6,410.9 184.0,425.1 184.4,417.5 184.8,412.9 185.2,405.8 185.6,403.5 186.0,391.2 186.4,382.5 186.8,379.2 187.2,383.4 187.6,393.6 188.0,398.5 188.4,409.7 188.8,414.2 189.2,412.1 189.6,421.8 190.0,441.4 190.4,416.8 190.8,424.0 191.2,461.1 191.6,453.7 192.0,438.4 192.4,431.3 192.8,435.1 193.2,469.0 193.6,439.0 194.0,441.4 194.4,440.5 194.8,445.2 195.2,487.3 195.6,449.0 196.0,460.1 196.4,442.4 196.8,445.4 197.2,464.8 197.6,461.9 198.0,452.3 198.4,494.8 198.8,463.7 199.2,467.3 199.6,460.3 200.0,474.8 200.4,456.8 200.8,462.8 201.2,460.5 201.6,492.1 202.0,472.8 202.4,472.2 202.8,479.7 203.2,485.5 203.6,500.4 204.0,476.6 204.4,481.9 204.8,494.0 205.2,492.2 205.6,495.8 206.0,475.8 206.4,482.3 206.8,480.7 207.2,482.2 207.6,476.9 208.0,503.2 208.4,473.0 208.8,478.6 209.2,469.6 209.6,469.1 210.0,471.7 210.4,484.1 210.8,490.6 211.2,485.8 211.6,486.7 212.0,486.3 212.4,469.5 212.8,471.0 213.2,501.2 213.6,486.9 214.0,480.6 214.4,503.1 214.8,478.1 215.2,483.7 215.6,481.4 216.0,496.6 216.4,495.4 216.8,491.8 217.2,486.3 217.6,488.0 218.0,487.7 218.4,499.1 218.8,485.4 219.2,501.4 219.6,497.4 220.0,483.3 220.4,494.0 220.8,494.0 221.2,481.5 221.6,493.6 222.0,481.9 222.4,485.7 222.8,500.6 223.2,504.5 223.6,499.4 224.0,498.4 224.4,485.7 224.8,486.0 225.2,499.2 225.6,484.5 226.0,494.2 226.4,490.9 226.8,500.0 227.2,495.4 227.6,496.3 228.0,502.7 228.4,504.4 228.8,498.2 229.2,504.3 229.6,489.1 230.0,513.6 230.4,499.4 230.8,501.9 231.2,488.4 231.6,495.0 232.0,486.5 232.4,492.1 232.8,500.6 233.2,519.4 233.6,494.6 234.0,505.4 234.4,514.2 234.8,520.5 235.2,504.6 235.6,494.8 236.0,503.7 236.4,505.8 236.8,501.2 237.2,510.9 237.6,519.5 238.0,490.8 238.4,499.0 238.8,500.8 239.2,491.3 239.6,522.1 240.0,506.0 240.4,503.7 240.8,518.4 241.2,501.2 241.6,504.4 242.0,506.8 242.4,510.4 242.8,510.4 243.2,501.1 243.6,507.9 244.0,497.1 244.4,506.4 244.8,491.5 245.2,512.1 245.6,502.6 246.0,491.0 246.4,507.9 246.8,505.4 247.2,496.9 247.6,506.6 248.0,528.1 248.4,498.5 248.8,505.9 249.2,514.2 249.6,502.2 250.0,492.0 250.4,507.3 250.8,489.6 251.2,499.9 251.6,518.1 252.0,511.6 252.4,501.0 252.8,506.2 253.2,512.6 253.6,498.4 254.0,511.4 254.4,520.8 254.8,521.6 255.2,493.8 255.6,504.6 256.0,511.4 256.4,507.7 256.8,501.1 257.2,496.0 257.6,498.3 258.0,501.0 258.4,496.8 258.8,510.4 259.2,505.5 259.6,508.5 260.0,497.9 260.4,521.3 260.8,507.9 261.2,540.7 261.6,528.3 262.0,507.9 262.4,493.4 262.8,496.9 263.2,523.8 263.6,526.7 264.0,507.1 264.4,503.5 264.8,499.8 265.2,505.8 265.6,515.1 266.0,487.7 266.4,507.3 266.8,543.1 267.2,507.6 267.6,515.8 268.0,497.1 268.4,503.3 268.8,509.7 269.2,507.5 269.6,512.7 270.0,526.4 270.4,502.3 270.8,522.3 271.2,506.3 271.6,516.1 272.0,503.7 272.4,497.8 272.8,509.3 273.2,500.0 273.6,515.4 274.0,520.6 274.4,506.1 274.8,523.6 275.2,512.7 275.6,506.7 276.0,522.4 276.4,514.0 276.8,502.8 277.2,519.5 277.6,518.6 278.0,522.4 278.4,512.9 278.8,526.6 279.2,532.5 279.6,516.2 280.0,530.8 280.4,532.5 280.8,513.8 281.2,524.0 281.6,507.3 282.0,508.6 282.4,508.9 282.8,511.9 283.2,503.4 283.6,530.3 284.0,494.8 284.4,510.2 284.8,509.0 285.2,499.4 285.6,523.9 286.0,520.1 286.4,511.8 286.8,517.6 287.2,502.6 287.6,507.7 288.0,506.5 288.4,519.3 288.8,514.9 289.2,523.5 289.6,506.8 290.0,525.0 290.4,513.1 290.8,508.5 291.2,528.3 291.6,514.2 292.0,513.0 292.4,493.2 292.8,496.7 293.2,513.3 293.6,511.4 294.0,517.0 294.4,519.2 294.8,505.2 295.2,520.9 295.6,501.8 296.0,510.5 296.4,516.0 296.8,519.2 297.2,516.9 297.6,514.0 298.0,515.1 298.4,523.0 298.8,502.4 299.2,526.2 299.6,511.3 300.0,505.6 300.4,523.6 300.8,514.0 301.2,498.9 301.6,545.0 302.0,509.1 302.4,538.3 302.8,518.1 303.2,520.7 303.6,515.6 304.0,510.3 304.4,505.2 304.8,506.5 305.2,514.5 305.6,512.3 306.0,519.5 306.4,532.3 306.4,559.4" fill="#8b0000" fill-opacity="0.2" stroke="none"/><polyline points="67.8,474.8 68.2,462.1 68.6,479.2 69.0,468.6 69.4,466.8 69.8,459.0 70.2,467.4 70.6,480.3 71.0,466.0 71.4,477.2 71.8,488.0 72.2,470.6 72.6,511.1 73.0,481.6 73.4,500.1 73.8,465.2 74.2,485.9 74.6,467.1 75.0,468.9 75.4,478.0 75.8,471.1 76.2,463.3 76.6,484.6 77.0,506.0 77.4,469.1 77.8,460.6 78.2,468.0 78.6,464.6 79.0,468.1 79.4,506.8 79.8,478.5 80.2,481.2 80.6,471.1 81.0,468.3 81.4,469.5 81.8,463.4 82.2,477.6 82.6,461.8 83.0,502.0 83.4,469.8 83.8,490.3 84.2,495.2 84.6,461.4 85.0,479.3 85.4,472.3 85.8,455.3 86.2,483.2 86.6,458.9 87.0,485.9 87.4,475.5 87.8,485.7 88.2,471.5 88.6,478.1 89.0,481.9 89.4,477.7 89.8,461.1 90.2,454.6 90.6,481.5 91.0,461.2 91.4,487.1 91.8,468.3 92.2,478.8 92.6,472.9 93.0,475.0 93.4,480.9 93.8,518.0 94.2,466.2 94.6,468.5 95.0,461.2 95.4,464.0 95.8,485.1 96.2,481.9 96.6,482.8 97.0,472.2 97.4,511.2 97.8,472.5 98.2,468.5 98.6,485.5 99.0,466.6 99.4,454.4 99.8,470.6 100.2,468.7 100.6,472.8 101.0,500.3 101.4,462.9 101.8,473.7 102.2,468.1 102.6,471.5 103.0,474.1 103.4,477.4 103.8,470.6 104.2,468.5 104.6,465.3 105.0,485.7 105.4,483.0 105.8,483.2 106.2,487.5 106.6,474.7 107.0,475.1 107.4,457.1 107.8,469.6 108.2,499.1 108.6,464.2 109.0,472.1 109.4,474.2 109.8,471.2 110.2,467.9 110.6,466.3 111.0,491.9 111.4,457.9 111.8,482.3 112.2,481.4 112.6,474.1 113.0,472.9 113.4,485.1 113.8,500.6 114.2,465.9 114.6,475.5 115.0,478.7 115.4,473.4 115.8,481.0 116.2,468.6 116.6,499.7 117.0,478.0 117.4,464.3 117.8,480.8 118.2,464.7 118.6,463.7 119.0,466.8 119.4,466.1 119.8,515.6 120.2,468.2 120.6,470.8 121.0,459.2 121.4,469.3 121.8,493.8 122.2,471.0 122.6,468.2 123.0,510.5 123.4,472.0 123.8,473.2 124.2,469.7 124.6,462.5 125.0,471.7 125.4,491.2 125.8,459.3 126.2,478.9 126.6,481.8 127.0,484.6 127.4,502.0 127.8,482.2 128.2,478.1 128.6,473.3 129.0,470.5 129.4,495.5 129.8,479.3 130.2,508.0 130.6,469.8 131.0,458.4 131.4,473.1 131.8,486.2 132.2,475.6 132.6,465.7 133.0,486.0 133.4,488.0 133.8,477.4 134.2,464.8 134.6,472.9 135.0,471.1 135.4,468.9 135.8,461.5 136.2,476.2 136.6,483.0 137.0,468.6 137.4,463.7 137.8,470.7 138.2,478.2 138.6,460.2 139.0,520.0 139.4,474.8 139.8,476.8 140.2,500.2 140.6,481.2 141.0,469.7 141.4,471.4 141.8,466.5 142.2,482.7 142.6,457.4 143.0,464.2 143.4,483.0 143.8,473.7 144.2,468.0 144.6,483.4 145.0,458.6 145.4,470.0 145.8,470.0 146.2,470.8 146.6,470.9 147.0,470.7 147.4,468.8 147.8,486.9 148.2,478.1 148.6,475.7 149.0,459.9 149.4,461.6 149.8,476.6 150.2,478.8 150.6,473.8 151.0,475.6 151.4,473.1 151.8,495.1 152.2,476.1 152.6,466.6 153.0,484.8 153.4,477.5 153.8,461.3 154.2,485.9 154.6,500.5 155.0,464.7 155.4,481.0 155.8,463.6 156.2,481.3 156.6,469.8 157.0,479.2 157.4,457.8 157.8,477.6 158.2,510.0 158.6,491.2 159.0,466.9 159.4,477.6 159.8,467.0 160.2,485.5 160.6,466.8 161.0,464.7 161.4,472.3 161.8,466.2 162.2,473.9 162.6,494.6 163.0,480.7 163.4,476.4 163.8,471.2 164.2,463.6 164.6,470.8 165.0,479.4 165.4,472.4 165.8,466.7 166.2,472.1 166.6,490.3 167.0,470.8 167.4,485.7 167.8,466.2 168.2,463.6 168.6,476.5 169.0,475.5 169.4,494.8 169.8,486.3 170.2,504.8 170.6,468.1 171.0,463.3 171.4,501.4 171.8,481.3 172.2,462.8 172.6,475.3 173.0,489.1 173.4,487.9 173.8,470.9 174.2,463.2 174.6,482.8 175.0,496.7 175.4,463.8 175.8,463.2 176.2,477.8 176.6,480.0 177.0,460.9 177.4,483.5 177.8,468.0 178.2,473.1 178.6,473.0 179.0,496.6 179.4,488.5 179.8,490.3 180.2,457.6 180.6,461.3 181.0,492.1 181.4,489.6 181.8,492.8 182.2,468.2 182.6,466.0 183.0,486.3 183.4,507.3 183.8,503.8 184.2,507.0 184.6,470.2 185.0,483.2 185.4,473.5 185.8,467.8 186.2,494.3 186.6,470.7 187.0,458.2 187.4,489.0 187.8,474.2 188.2,459.2 188.6,471.0 189.0,461.1 189.4,462.6 189.8,473.0 190.2,477.2 190.6,458.0 191.0,476.4 191.4,461.8 191.8,475.2 192.2,468.6 192.6,481.1 193.0,479.8 193.4,476.1 193.8,475.1 194.2,452.9 194.6,471.1 195.0,515.5 195.4,493.2 195.8,451.6 196.2,461.7 196.6,457.9 197.0,523.9 197.4,472.4 197.8,462.5 198.2,462.3 198.6,485.6 199.0,465.1 199.4,465.0 199.8,465.5 200.2,480.5 200.6,471.7 201.0,478.2 201.4,466.8 201.8,457.1 202.2,492.1 202.6,457.5 203.0,487.6 203.4,484.3 203.8,458.3 204.2,472.7 204.6,475.2 205.0,464.6 205.4,473.1 205.8,469.4 206.2,454.2 206.6,491.1 207.0,487.6 207.4,470.4 207.8,485.2 208.2,482.5 208.6,484.5 209.0,454.1 209.4,458.7 209.8,476.2 210.2,468.8 210.6,463.4 211.0,461.2 211.4,490.1 211.8,471.9 212.2,478.3 212.6,463.1 213.0,473.0 213.4,476.3 213.8,498.0 214.2,487.8 214.6,482.3 215.0,465.4 215.4,483.3 215.8,480.2 216.2,472.2 216.6,478.1 217.0,471.0 217.4,457.0 217.8,481.4 218.2,470.8 218.6,481.6 219.0,471.2 219.4,486.6 219.8,490.6 220.2,467.3 220.6,465.3 221.0,488.7 221.4,491.9 221.8,496.4 222.2,482.3 222.6,449.4 223.0,492.6 223.4,460.1 223.8,497.1 224.2,460.3 224.6,484.1 225.0,459.4 225.4,477.4 225.8,451.0 226.2,461.5 226.6,464.4 227.0,468.5 227.4,492.9 227.8,476.2 228.2,463.4 228.6,485.3 229.0,472.7 229.4,484.5 229.8,464.9 230.2,449.6 230.6,472.9 231.0,464.3 231.4,477.0 231.8,467.3 232.2,486.6 232.6,458.5 233.0,463.1 233.4,444.4 233.8,456.9 234.2,467.3 234.6,456.1 235.0,463.4 235.4,465.7 235.8,454.1 236.2,496.1 236.6,495.8 237.0,464.5 237.4,460.8 237.8,448.1 238.2,459.8 238.6,462.6 239.0,449.6 239.4,453.9 239.8,456.1 240.2,437.1 240.6,453.6 241.0,448.3 241.4,448.8 241.8,477.2 242.2,469.6 242.6,466.6 243.0,446.8 243.4,436.8 243.8,425.8 244.2,433.8 244.6,433.0 245.0,424.1 245.4,421.2 245.8,412.5 246.2,405.7 246.6,396.9 247.0,392.8 247.4,399.4 247.8,409.2 248.2,411.7 248.6,420.7 249.0,425.2 249.4,431.3 249.8,438.5 250.2,464.7 250.6,456.1 251.0,454.8 251.4,438.7 251.8,441.9 252.2,451.2 252.6,477.0 253.0,454.2 253.4,441.7 253.8,448.2 254.2,450.7 254.6,465.1 255.0,471.8 255.4,457.0 255.8,448.7 256.2,465.7 256.6,457.8 257.0,450.2 257.4,475.9 257.8,469.0 258.2,491.6 258.6,480.6 259.0,502.4 259.4,469.4 259.8,455.8 260.2,462.2 260.6,466.1 261.0,463.0 261.4,491.5 261.8,484.6 262.2,464.6 262.6,478.6 263.0,478.5 263.4,472.5 263.8,483.4 264.2,469.8 264.6,449.0 265.0,469.6 265.4,476.0 265.8,464.8 266.2,466.8 266.6,506.4 267.0,449.6 267.4,472.7 267.8,492.3 268.2,462.4 268.6,463.7 269.0,449.6 269.4,494.5 269.8,457.5 270.2,461.1 270.6,491.2 271.0,456.6 271.4,478.8 271.8,491.1 272.2,466.2 272.6,496.7 273.0,472.9 273.4,473.5 273.8,466.4 274.2,470.6 274.6,468.7 275.0,515.4 275.4,477.0 275.8,475.6 276.2,471.0 276.6,479.7 277.0,455.1 277.4,478.2 277.8,469.2 278.2,465.0 278.6,470.2 279.0,489.1 279.4,478.7 279.8,470.4 280.2,484.0 280.6,465.7 281.0,471.2 281.4,471.4 281.8,496.1 282.2,476.4 282.6,479.9 283.0,466.2 283.4,482.6 283.8,477.9 284.2,478.8 284.6,463.6 285.0,488.9 285.4,483.5 285.8,492.4 286.2,466.4 286.6,487.8 287.0,472.8 287.4,464.9 287.8,495.5 288.2,470.8 288.6,470.7 289.0,478.7 289.4,463.1 289.8,470.2 290.2,466.4 290.6,459.5 291.0,464.0 291.4,465.0 291.8,481.8 292.2,469.6 292.6,476.2 293.0,471.8 293.4,468.2 293.8,478.3 294.2,481.2 294.6,485.0 295.0,474.4 295.4,473.8 295.8,491.6 296.2,500.0 296.6,472.7 297.0,472.2 297.4,493.3 297.8,479.8 298.2,477.2 298.6,460.5 299.0,457.4 299.4,483.4 299.8,469.4 300.2,464.7 300.6,457.1 301.0,494.5 301.4,480.0 301.8,470.3 302.2,479.5 302.6,478.6 303.0,506.3 303.4,498.9 303.8,483.7 304.2,490.7 304.6,477.9 305.0,451.6 305.4,484.2 305.8,478.3 306.2,500.1" fill="none" stroke="#000090" stroke-width="1.9" stroke-linejoin="miter" stroke-miterlimit="2"/><polyline points="68.1,512.3 68.5,510.7 68.9,483.9 69.3,497.3 69.7,488.3 70.1,474.4 70.5,478.5 70.9,504.1 71.3,508.3 71.7,491.1 72.1,485.1 72.5,500.9 72.9,475.3 73.3,504.4 73.7,476.7 74.1,481.8 74.5,495.6 74.9,499.6 75.3,489.3 75.7,502.0 76.1,483.4 76.5,474.8 76.9,484.5 77.3,487.5 77.7,488.1 78.1,513.0 78.5,506.8 78.9,489.2 79.3,503.9 79.7,498.2 80.1,491.2 80.5,489.4 80.9,485.7 81.3,487.2 81.7,488.8 82.1,507.6 82.5,487.2 82.9,499.8 83.3,487.8 83.7,479.5 84.1,501.6 84.5,494.3 84.9,490.7 85.3,491.5 85.7,510.5 86.1,486.2 86.5,493.2 86.9,492.5 87.3,501.3 87.7,483.9 88.1,478.7 88.5,486.1 88.9,492.8 89.3,493.1 89.7,500.5 90.1,518.8 90.5,506.1 90.9,498.3 91.3,497.5 91.7,490.5 92.1,512.2 92.5,506.9 92.9,502.1 93.3,503.3 93.7,491.1 94.1,481.8 94.5,481.7 94.9,499.4 95.3,496.4 95.7,477.9 96.1,501.1 96.5,505.7 96.9,493.2 97.3,485.1 97.7,494.0 98.1,494.9 98.5,490.5 98.9,505.1 99.3,483.9 99.7,482.0 100.1,491.2 100.5,490.8 100.9,503.6 101.3,485.8 101.7,497.7 102.1,501.5 102.5,513.9 102.9,497.0 103.3,476.8 103.7,487.1 104.1,500.5 104.5,496.0 104.9,514.4 105.3,490.4 105.7,486.2 106.1,496.7 106.5,485.6 106.9,505.0 107.3,497.1 107.7,487.3 108.1,483.2 108.5,498.3 108.9,489.1 109.3,497.1 109.7,502.4 110.1,472.6 110.5,490.3 110.9,494.9 111.3,475.8 111.7,478.5 112.1,503.5 112.5,498.2 112.9,482.1 113.3,487.6 113.7,488.2 114.1,472.6 114.5,490.0 114.9,498.3 115.3,497.3 115.7,501.5 116.1,489.5 116.5,510.8 116.9,497.6 117.3,483.6 117.7,493.2 118.1,487.6 118.5,504.6 118.9,503.4 119.3,485.7 119.7,480.3 120.1,498.4 120.5,480.4 120.9,471.6 121.3,488.2 121.7,508.1 122.1,484.4 122.5,532.6 122.9,484.5 123.3,488.9 123.7,482.4 124.1,492.9 124.5,484.3 124.9,509.5 125.3,487.7 125.7,512.1 126.1,497.4 126.5,521.4 126.9,509.2 127.3,489.7 127.7,492.2 128.1,496.3 128.5,502.4 128.9,491.3 129.3,498.0 129.7,489.2 130.1,482.4 130.5,486.2 130.9,485.0 131.3,492.7 131.7,493.3 132.1,478.9 132.5,486.4 132.9,487.4 133.3,502.7 133.7,488.7 134.1,479.8 134.5,478.3 134.9,480.0 135.3,479.3 135.7,476.7 136.1,496.7 136.5,502.0 136.9,478.7 137.3,482.3 137.7,469.5 138.1,483.5 138.5,499.0 138.9,482.0 139.3,492.7 139.7,518.3 140.1,512.9 140.5,522.6 140.9,497.9 141.3,496.0 141.7,495.3 142.1,498.9 142.5,496.0 142.9,485.2 143.3,507.0 143.7,478.9 144.1,480.7 144.5,513.2 144.9,486.7 145.3,509.7 145.7,494.0 146.1,479.9 146.5,505.7 146.9,492.8 147.3,474.7 147.7,493.1 148.1,487.8 148.5,494.6 148.9,488.6 149.3,495.4 149.7,475.0 150.1,484.9 150.5,510.5 150.9,478.7 151.3,482.3 151.7,493.1 152.1,504.8 152.5,490.6 152.9,476.7 153.3,506.6 153.7,482.2 154.1,492.6 154.5,498.6 154.9,483.4 155.3,486.7 155.7,502.2 156.1,491.6 156.5,510.2 156.9,496.3 157.3,508.9 157.7,513.7 158.1,506.9 158.5,505.7 158.9,492.7 159.3,497.0 159.7,482.2 160.1,521.5 160.5,481.4 160.9,486.8 161.3,480.2 161.7,481.5 162.1,495.9 162.5,498.0 162.9,483.9 163.3,499.9 163.7,479.6 164.1,488.5 164.5,482.5 164.9,480.5 165.3,526.6 165.7,495.7 166.1,492.0 166.5,495.3 166.9,492.3 167.3,493.0 167.7,485.9 168.1,490.0 168.5,503.7 168.9,501.5 169.3,487.6 169.7,484.9 170.1,498.1 170.5,486.6 170.9,478.5 171.3,497.8 171.7,509.8 172.1,485.0 172.5,485.8 172.9,499.0 173.3,493.5 173.7,516.2 174.1,520.8 174.5,499.1 174.9,517.5 175.3,493.7 175.7,475.9 176.1,500.3 176.5,478.2 176.9,494.3 177.3,490.4 177.7,493.8 178.1,477.6 178.5,479.7 178.9,487.6 179.3,486.3 179.7,470.8 180.1,484.5 180.5,476.4 180.9,503.1 181.3,484.7 181.7,508.5 182.1,482.7 182.5,493.3 182.9,505.4 183.3,488.2 183.7,480.6 184.1,514.9 184.5,502.1 184.9,489.8 185.3,512.0 185.7,517.0 186.1,486.9 186.5,485.0 186.9,509.1 187.3,488.6 187.7,491.4 188.1,480.5 188.5,487.1 188.9,501.5 189.3,478.5 189.7,486.0 190.1,490.6 190.5,480.6 190.9,499.1 191.3,482.0 191.7,505.0 192.1,479.6 192.5,474.1 192.9,488.5 193.3,472.5 193.7,481.1 194.1,499.1 194.5,499.8 194.9,483.4 195.3,498.2 195.7,472.8 196.1,491.2 196.5,497.5 196.9,472.8 197.3,515.0 197.7,483.0 198.1,472.1 198.5,478.1 198.9,485.7 199.3,476.4 199.7,520.7 200.1,500.8 200.5,483.1 200.9,486.3 201.3,483.8 201.7,468.9 202.1,477.7 202.5,496.2 202.9,489.0 203.3,483.8 203.7,487.4 204.1,507.6 204.5,485.1 204.9,481.8 205.3,482.0 205.7,482.7 206.1,481.8 206.5,481.0 206.9,480.5 207.3,482.1 207.7,471.8 208.1,489.9 208.5,480.6 208.9,485.6 209.3,504.9 209.7,489.1 210.1,484.3 210.5,527.6 210.9,478.3 211.3,492.4 211.7,458.2 212.1,481.3 212.5,479.6 212.9,464.6 213.3,475.9 213.7,469.4 214.1,475.0 214.5,483.1 214.9,485.4 215.3,458.8 215.7,466.9 216.1,480.9 216.5,472.7 216.9,482.2 217.3,462.2 217.7,462.1 218.1,450.9 218.5,459.7 218.9,449.3 219.3,453.1 219.7,466.0 220.1,472.1 220.5,458.6 220.9,454.2 221.3,462.6 221.7,448.8 222.1,469.1 222.5,451.7 222.9,450.7 223.3,443.1 223.7,443.2 224.1,456.2 224.5,463.7 224.9,444.1 225.3,449.4 225.7,431.4 226.1,426.9 226.5,430.0 226.9,422.7 227.3,414.9 227.7,404.3 228.1,400.1 228.5,393.8 228.9,386.6 229.3,389.7 229.7,403.0 230.1,407.6 230.5,414.8 230.9,420.8 231.3,423.9 231.7,430.3 232.1,425.8 232.5,435.7 232.9,456.9 233.3,441.0 233.7,448.0 234.1,447.0 234.5,448.8 234.9,458.4 235.3,456.1 235.7,436.2 236.1,448.4 236.5,461.5 236.9,461.2 237.3,452.4 237.7,458.0 238.1,457.0 238.5,457.8 238.9,448.5 239.3,484.7 239.7,463.7 240.1,465.6 240.5,478.5 240.9,488.3 241.3,473.6 241.7,483.6 242.1,468.3 242.5,471.7 242.9,486.8 243.3,459.8 243.7,465.1 244.1,461.6 244.5,479.6 244.9,461.2 245.3,465.5 245.7,477.2 246.1,501.1 246.5,493.8 246.9,473.0 247.3,475.9 247.7,486.3 248.1,505.5 248.5,476.7 248.9,493.8 249.3,469.3 249.7,469.4 250.1,474.6 250.5,471.5 250.9,470.3 251.3,499.6 251.7,481.1 252.1,503.2 252.5,487.8 252.9,474.4 253.3,470.0 253.7,477.7 254.1,498.0 254.5,493.6 254.9,479.4 255.3,489.4 255.7,495.1 256.1,492.2 256.5,488.1 256.9,476.3 257.3,484.2 257.7,475.2 258.1,488.3 258.5,489.0 258.9,482.6 259.3,499.7 259.7,489.4 260.1,479.8 260.5,484.0 260.9,491.2 261.3,494.9 261.7,484.8 262.1,490.3 262.5,498.6 262.9,488.4 263.3,485.9 263.7,488.6 264.1,481.6 264.5,483.9 264.9,481.4 265.3,473.8 265.7,506.2 266.1,501.2 266.5,488.9 266.9,483.8 267.3,482.5 267.7,490.0 268.1,487.2 268.5,499.9 268.9,480.8 269.3,496.8 269.7,481.6 270.1,473.4 270.5,489.2 270.9,485.0 271.3,497.5 271.7,490.0 272.1,492.9 272.5,500.8 272.9,492.2 273.3,476.4 273.7,486.3 274.1,481.9 274.5,497.0 274.9,494.7 275.3,479.3 275.7,492.8 276.1,486.7 276.5,484.0 276.9,507.2 277.3,482.1 277.7,492.1 278.1,488.2 278.5,488.3 278.9,477.5 279.3,477.4 279.7,500.6 280.1,503.4 280.5,502.4 280.9,484.9 281.3,484.1 281.7,493.1 282.1,484.5 282.5,508.8 282.9,480.3 283.3,492.5 283.7,500.9 284.1,491.0 284.5,480.0 284.9,511.2 285.3,480.8 285.7,482.0 286.1,486.4 286.5,493.4 286.9,479.8 287.3,497.1 287.7,470.6 288.1,488.5 288.5,475.5 288.9,497.3 289.3,491.9 289.7,504.9 290.1,507.2 290.5,491.7 290.9,489.4 291.3,499.6 291.7,485.2 292.1,478.8 292.5,490.9 292.9,490.7 293.3,519.1 293.7,500.4 294.1,498.7 294.5,490.8 294.9,488.3 295.3,492.5 295.7,500.8 296.1,497.4 296.5,484.6 296.9,514.4 297.3,481.3 297.7,492.4 298.1,506.3 298.5,529.9 298.9,501.6 299.3,486.2 299.7,483.0 300.1,505.6 300.5,500.7 300.9,530.6 301.3,499.6 301.7,492.6 302.1,491.7 302.5,490.3 302.9,480.1 303.3,501.6 303.7,494.5 304.1,487.0 304.5,508.1 304.9,494.4 305.3,489.2 305.7,487.6 306.1,499.1 306.5,507.6" fill="none" stroke="#9900dd" stroke-width="1.9" stroke-linejoin="miter" stroke-miterlimit="2"/><polyline points="68.0,511.0 68.4,509.3 68.8,534.0 69.2,515.6 69.6,499.5 70.0,526.8 70.4,505.5 70.8,512.0 71.2,527.7 71.6,509.3 72.0,519.4 72.4,529.6 72.8,505.8 73.2,531.3 73.6,498.4 74.0,506.8 74.4,516.0 74.8,521.4 75.2,499.8 75.6,516.2 76.0,520.7 76.4,525.7 76.8,517.0 77.2,509.5 77.6,524.9 78.0,505.9 78.4,500.8 78.8,519.5 79.2,521.0 79.6,511.7 80.0,525.5 80.4,504.1 80.8,511.0 81.2,514.1 81.6,518.5 82.0,511.5 82.4,512.5 82.8,515.2 83.2,508.2 83.6,539.3 84.0,504.5 84.4,529.1 84.8,507.8 85.2,520.5 85.6,517.3 86.0,518.5 86.4,516.8 86.8,513.6 87.2,498.7 87.6,520.6 88.0,518.2 88.4,512.3 88.8,504.4 89.2,504.2 89.6,517.6 90.0,517.9 90.4,504.9 90.8,516.6 91.2,500.3 91.6,513.8 92.0,510.0 92.4,519.4 92.8,532.7 93.2,505.2 93.6,510.5 94.0,519.3 94.4,504.5 94.8,514.7 95.2,494.9 95.6,506.7 96.0,518.5 96.4,514.1 96.8,512.4 97.2,522.0 97.6,521.5 98.0,512.4 98.4,514.5 98.8,505.9 99.2,501.1 99.6,551.2 100.0,510.7 100.4,542.3 100.8,499.7 101.2,520.6 101.6,501.7 102.0,495.9 102.4,493.6 102.8,505.6 103.2,510.1 103.6,501.6 104.0,503.1 104.4,509.1 104.8,517.1 105.2,505.5 105.6,502.4 106.0,497.7 106.4,496.8 106.8,512.8 107.2,517.6 107.6,495.5 108.0,490.4 108.4,522.9 108.8,499.8 109.2,520.7 109.6,521.7 110.0,507.6 110.4,508.5 110.8,521.6 111.2,520.5 111.6,496.3 112.0,498.9 112.4,511.1 112.8,516.4 113.2,506.4 113.6,499.5 114.0,498.1 114.4,522.5 114.8,499.7 115.2,503.8 115.6,503.4 116.0,517.6 116.4,523.6 116.8,525.8 117.2,507.5 117.6,503.9 118.0,506.4 118.4,502.1 118.8,494.8 119.2,501.9 119.6,534.9 120.0,491.7 120.4,495.9 120.8,512.6 121.2,495.0 121.6,510.4 122.0,505.3 122.4,495.2 122.8,495.5 123.2,486.2 123.6,507.0 124.0,526.6 124.4,503.2 124.8,497.7 125.2,525.9 125.6,501.3 126.0,495.3 126.4,501.2 126.8,493.7 127.2,506.1 127.6,511.7 128.0,510.7 128.4,496.9 128.8,499.1 129.2,507.6 129.6,509.8 130.0,510.1 130.4,504.1 130.8,509.9 131.2,507.7 131.6,506.9 132.0,521.4 132.4,495.2 132.8,494.9 133.2,521.9 133.6,494.1 134.0,494.2 134.4,494.0 134.8,497.1 135.2,505.1 135.6,492.8 136.0,503.9 136.4,491.1 136.8,497.1 137.2,509.1 137.6,495.3 138.0,498.3 138.4,489.6 138.8,529.9 139.2,496.1 139.6,508.3 140.0,495.0 140.4,494.7 140.8,489.7 141.2,499.7 141.6,497.2 142.0,509.7 142.4,503.0 142.8,487.8 143.2,501.4 143.6,487.1 144.0,490.4 144.4,500.2 144.8,489.3 145.2,503.1 145.6,486.2 146.0,508.7 146.4,494.8 146.8,523.3 147.2,496.7 147.6,504.3 148.0,514.6 148.4,491.7 148.8,515.7 149.2,495.1 149.6,488.8 150.0,514.5 150.4,494.4 150.8,500.4 151.2,496.5 151.6,502.4 152.0,484.4 152.4,501.2 152.8,495.0 153.2,493.0 153.6,505.9 154.0,499.5 154.4,487.6 154.8,498.2 155.2,478.7 155.6,487.7 156.0,478.1 156.4,483.8 156.8,498.2 157.2,478.3 157.6,485.5 158.0,476.9 158.4,474.6 158.8,499.6 159.2,493.3 159.6,516.9 160.0,488.7 160.4,481.2 160.8,477.2 161.2,485.2 161.6,488.4 162.0,481.4 162.4,478.3 162.8,483.8 163.2,481.5 163.6,489.7 164.0,465.6 164.4,479.8 164.8,481.8 165.2,473.4 165.6,472.8 166.0,483.5 166.4,491.3 166.8,477.8 167.2,486.9 167.6,478.1 168.0,458.3 168.4,472.0 168.8,463.5 169.2,482.1 169.6,460.0 170.0,463.0 170.4,474.1 170.8,490.8 171.2,469.0 171.6,476.5 172.0,477.4 172.4,459.4 172.8,459.1 173.2,458.2 173.6,471.1 174.0,476.5 174.4,467.9 174.8,459.7 175.2,463.4 175.6,460.2 176.0,467.9 176.4,462.4 176.8,462.8 177.2,469.2 177.6,463.7 178.0,478.0 178.4,453.5 178.8,466.5 179.2,439.5 179.6,449.6 180.0,442.1 180.4,455.7 180.8,440.6 181.2,444.6 181.6,449.9 182.0,433.7 182.4,428.2 182.8,439.3 183.2,445.7 183.6,410.9 184.0,425.1 184.4,417.5 184.8,412.9 185.2,405.8 185.6,403.5 186.0,391.2 186.4,382.5 186.8,379.2 187.2,383.4 187.6,393.6 188.0,398.5 188.4,409.7 188.8,414.2 189.2,412.1 189.6,421.8 190.0,441.4 190.4,416.8 190.8,424.0 191.2,461.1 191.6,453.7 192.0,438.4 192.4,431.3 192.8,435.1 193.2,469.0 193.6,439.0 194.0,441.4 194.4,440.5 194.8,445.2 195.2,487.3 195.6,449.0 196.0,460.1 196.4,442.4 196.8,445.4 197.2,464.8 197.6,461.9 198.0,452.3 198.4,494.8 198.8,463.7 199.2,467.3 199.6,460.3 200.0,474.8 200.4,456.8 200.8,462.8 201.2,460.5 201.6,492.1 202.0,472.8 202.4,472.2 202.8,479.7 203.2,485.5 203.6,500.4 204.0,476.6 204.4,481.9 204.8,494.0 205.2,492.2 205.6,495.8 206.0,475.8 206.4,482.3 206.8,480.7 207.2,482.2 207.6,476.9 208.0,503.2 208.4,473.0 208.8,478.6 209.2,469.6 209.6,469.1 210.0,471.7 210.4,484.1 210.8,490.6 211.2,485.8 211.6,486.7 212.0,486.3 212.4,469.5 212.8,471.0 213.2,501.2 213.6,486.9 214.0,480.6 214.4,503.1 214.8,478.1 215.2,483.7 215.6,481.4 216.0,496.6 216.4,495.4 216.8,491.8 217.2,486.3 217.6,488.0 218.0,487.7 218.4,499.1 218.8,485.4 219.2,501.4 219.6,497.4 220.0,483.3 220.4,494.0 220.8,494.0 221.2,481.5 221.6,493.6 222.0,481.9 222.4,485.7 222.8,500.6 223.2,504.5 223.6,499.4 224.0,498.4 224.4,485.7 224.8,486.0 225.2,499.2 225.6,484.5 226.0,494.2 226.4,490.9 226.8,500.0 227.2,495.4 227.6,496.3 228.0,502.7 228.4,504.4 228.8,498.2 229.2,504.3 229.6,489.1 230.0,513.6 230.4,499.4 230.8,501.9 231.2,488.4 231.6,495.0 232.0,486.5 232.4,492.1 232.8,500.6 233.2,519.4 233.6,494.6 234.0,505.4 234.4,514.2 234.8,520.5 235.2,504.6 235.6,494.8 236.0,503.7 236.4,505.8 236.8,501.2 237.2,510.9 237.6,519.5 238.0,490.8 238.4,499.0 238.8,500.8 239.2,491.3 239.6,522.1 240.0,506.0 240.4,503.7 240.8,518.4 241.2,501.2 241.6,504.4 242.0,506.8 242.4,510.4 242.8,510.4 243.2,501.1 243.6,507.9 244.0,497.1 244.4,506.4 244.8,491.5 245.2,512.1 245.6,502.6 246.0,491.0 246.4,507.9 246.8,505.4 247.2,496.9 247.6,506.6 248.0,528.1 248.4,498.5 248.8,505.9 249.2,514.2 249.6,502.2 250.0,492.0 250.4,507.3 250.8,489.6 251.2,499.9 251.6,518.1 252.0,511.6 252.4,501.0 252.8,506.2 253.2,512.6 253.6,498.4 254.0,511.4 254.4,520.8 254.8,521.6 255.2,493.8 255.6,504.6 256.0,511.4 256.4,507.7 256.8,501.1 257.2,496.0 257.6,498.3 258.0,501.0 258.4,496.8 258.8,510.4 259.2,505.5 259.6,508.5 260.0,497.9 260.4,521.3 260.8,507.9 261.2,540.7 261.6,528.3 262.0,507.9 262.4,493.4 262.8,496.9 263.2,523.8 263.6,526.7 264.0,507.1 264.4,503.5 264.8,499.8 265.2,505.8 265.6,515.1 266.0,487.7 266.4,507.3 266.8,543.1 267.2,507.6 267.6,515.8 268.0,497.1 268.4,503.3 268.8,509.7 269.2,507.5 269.6,512.7 270.0,526.4 270.4,502.3 270.8,522.3 271.2,506.3 271.6,516.1 272.0,503.7 272.4,497.8 272.8,509.3 273.2,500.0 273.6,515.4 274.0,520.6 274.4,506.1 274.8,523.6 275.2,512.7 275.6,506.7 276.0,522.4 276.4,514.0 276.8,502.8 277.2,519.5 277.6,518.6 278.0,522.4 278.4,512.9 278.8,526.6 279.2,532.5 279.6,516.2 280.0,530.8 280.4,532.5 280.8,513.8 281.2,524.0 281.6,507.3 282.0,508.6 282.4,508.9 282.8,511.9 283.2,503.4 283.6,530.3 284.0,494.8 284.4,510.2 284.8,509.0 285.2,499.4 285.6,523.9 286.0,520.1 286.4,511.8 286.8,517.6 287.2,502.6 287.6,507.7 288.0,506.5 288.4,519.3 288.8,514.9 289.2,523.5 289.6,506.8 290.0,525.0 290.4,513.1 290.8,508.5 291.2,528.3 291.6,514.2 292.0,513.0 292.4,493.2 292.8,496.7 293.2,513.3 293.6,511.4 294.0,517.0 294.4,519.2 294.8,505.2 295.2,520.9 295.6,501.8 296.0,510.5 296.4,516.0 296.8,519.2 297.2,516.9 297.6,514.0 298.0,515.1 298.4,523.0 298.8,502.4 299.2,526.2 299.6,511.3 300.0,505.6 300.4,523.6 300.8,514.0 301.2,498.9 301.6,545.0 302.0,509.1 302.4,538.3 302.8,518.1 303.2,520.7 303.6,515.6 304.0,510.3 304.4,505.2 304.8,506.5 305.2,514.5 305.6,512.3 306.0,519.5 306.4,532.3" fill="none" stroke="#8b0000" stroke-width="1.9" stroke-linejoin="miter" stroke-miterlimit="2"/></svg><rect x="69.2" y="325.5" width="235.40000000000003" height="228.89999999999998" fill="none" stroke="#333" stroke-width="1.1"/><line x1="65.20" y1="358.20" x2="69.20" y2="358.20" stroke="#333" stroke-width="1.1" /><text x="44.50" y="362.70" font-size="13" text-anchor="end" fill="#000">10</text><text x="44.80" y="356.40" font-size="8.8" text-anchor="start" fill="#000">−21</text><line x1="65.20" y1="423.60" x2="69.20" y2="423.60" stroke="#333" stroke-width="1.1" /><text x="44.50" y="428.10" font-size="13" text-anchor="end" fill="#000">10</text><text x="44.80" y="421.80" font-size="8.8" text-anchor="start" fill="#000">−23</text><line x1="65.20" y1="489.00" x2="69.20" y2="489.00" stroke="#333" stroke-width="1.1" /><text x="44.50" y="493.50" font-size="13" text-anchor="end" fill="#000">10</text><text x="44.80" y="487.20" font-size="8.8" text-anchor="start" fill="#000">−25</text><line x1="65.20" y1="554.40" x2="69.20" y2="554.40" stroke="#333" stroke-width="1.1" /><text x="44.50" y="558.90" font-size="13" text-anchor="end" fill="#000">10</text><text x="44.80" y="552.60" font-size="8.8" text-anchor="start" fill="#000">−27</text><line x1="186.90" y1="554.40" x2="186.90" y2="557.40" stroke="#333" stroke-width="1.1" /><text x="186.70" y="572.40" font-size="12.5" text-anchor="middle" fill="#000">517.02</text><text x="186.00" y="593.00" font-size="13" text-anchor="middle" fill="#000">Frequency, f (kHz)</text><g transform="translate(17,440) rotate(-90)"><text x="0" y="0" font-size="13" text-anchor="middle"><tspan font-style="italic">S</tspan><tspan font-size="9" dy="3" font-style="italic">z</tspan><tspan dy="-3"> (</tspan><tspan font-style="italic">m</tspan><tspan font-size="9" dy="-5">2</tspan><tspan dy="5">/</tspan><tspan font-style="italic">Hz</tspan>)</text></g><line x1="259.50" y1="340.20" x2="272.50" y2="340.20" stroke="#000080" stroke-width="2" /><text x="276.70" y="345.20" font-size="13" text-anchor="start" font-style="italic" fill="#000">P</text><text x="285.00" y="348.20" font-size="9" text-anchor="start" fill="#000">1</text><line x1="259.50" y1="373.80" x2="272.50" y2="373.80" stroke="#9400d3" stroke-width="2" /><text x="276.70" y="378.80" font-size="13" text-anchor="start" font-style="italic" fill="#000">P</text><text x="285.00" y="381.80" font-size="9" text-anchor="start" fill="#000">2</text><line x1="259.50" y1="407.20" x2="272.50" y2="407.20" stroke="#8b0000" stroke-width="2" /><text x="276.70" y="412.20" font-size="13" text-anchor="start" font-style="italic" fill="#000">P</text><text x="285.00" y="415.20" font-size="9" text-anchor="start" fill="#000">3</text><line x1="161.10" y1="386.60" x2="161.10" y2="498.90" stroke="#000" stroke-width="3.2" /><line x1="153.30" y1="386.60" x2="168.50" y2="386.60" stroke="#000" stroke-width="2.6" /><line x1="153.30" y1="498.90" x2="168.50" y2="498.90" stroke="#000" stroke-width="2.6" /><text x="136.00" y="423.00" font-size="13" text-anchor="start" font-style="italic" fill="#000">K</text><text x="145.00" y="426.00" font-size="9" text-anchor="start" font-style="italic" fill="#000">d</text><text x="145.50" y="416.50" font-size="9" text-anchor="start" fill="#000">−2</text><rect x="409.6" y="325.4" width="235.79999999999995" height="228.89999999999998" fill="none" stroke="#333" stroke-width="1.1"/><line x1="409.60" y1="554.30" x2="409.60" y2="557.80" stroke="#333" stroke-width="1.1" /><line x1="445.09" y1="554.30" x2="445.09" y2="556.10" stroke="#333" stroke-width="1.1" /><line x1="465.85" y1="554.30" x2="465.85" y2="556.10" stroke="#333" stroke-width="1.1" /><line x1="480.58" y1="554.30" x2="480.58" y2="556.10" stroke="#333" stroke-width="1.1" /><line x1="492.01" y1="554.30" x2="492.01" y2="556.10" stroke="#333" stroke-width="1.1" /><line x1="501.34" y1="554.30" x2="501.34" y2="556.10" stroke="#333" stroke-width="1.1" /><line x1="509.24" y1="554.30" x2="509.24" y2="556.10" stroke="#333" stroke-width="1.1" /><line x1="516.07" y1="554.30" x2="516.07" y2="556.10" stroke="#333" stroke-width="1.1" /><line x1="522.11" y1="554.30" x2="522.11" y2="556.10" stroke="#333" stroke-width="1.1" /><line x1="527.50" y1="554.30" x2="527.50" y2="557.80" stroke="#333" stroke-width="1.1" /><line x1="562.99" y1="554.30" x2="562.99" y2="556.10" stroke="#333" stroke-width="1.1" /><line x1="583.75" y1="554.30" x2="583.75" y2="556.10" stroke="#333" stroke-width="1.1" /><line x1="598.48" y1="554.30" x2="598.48" y2="556.10" stroke="#333" stroke-width="1.1" /><line x1="609.91" y1="554.30" x2="609.91" y2="556.10" stroke="#333" stroke-width="1.1" /><line x1="619.24" y1="554.30" x2="619.24" y2="556.10" stroke="#333" stroke-width="1.1" /><line x1="627.14" y1="554.30" x2="627.14" y2="556.10" stroke="#333" stroke-width="1.1" /><line x1="633.97" y1="554.30" x2="633.97" y2="556.10" stroke="#333" stroke-width="1.1" /><line x1="640.01" y1="554.30" x2="640.01" y2="556.10" stroke="#333" stroke-width="1.1" /><line x1="645.40" y1="554.30" x2="645.40" y2="557.80" stroke="#333" stroke-width="1.1" /><text x="414.83" y="575.70" font-size="13" text-anchor="end" fill="#000">10</text><text x="415.13" y="569.40" font-size="8.8" text-anchor="start" fill="#000">0</text><text x="532.73" y="575.70" font-size="13" text-anchor="end" fill="#000">10</text><text x="533.03" y="569.40" font-size="8.8" text-anchor="start" fill="#000">1</text><text x="650.63" y="575.70" font-size="13" text-anchor="end" fill="#000">10</text><text x="650.93" y="569.40" font-size="8.8" text-anchor="start" fill="#000">2</text><line x1="406.10" y1="553.60" x2="409.60" y2="553.60" stroke="#333" stroke-width="1.1" /><line x1="407.80" y1="519.13" x2="409.60" y2="519.13" stroke="#333" stroke-width="1.1" /><line x1="407.80" y1="498.97" x2="409.60" y2="498.97" stroke="#333" stroke-width="1.1" /><line x1="407.80" y1="484.66" x2="409.60" y2="484.66" stroke="#333" stroke-width="1.1" /><line x1="407.80" y1="473.57" x2="409.60" y2="473.57" stroke="#333" stroke-width="1.1" /><line x1="407.80" y1="464.50" x2="409.60" y2="464.50" stroke="#333" stroke-width="1.1" /><line x1="407.80" y1="456.84" x2="409.60" y2="456.84" stroke="#333" stroke-width="1.1" /><line x1="407.80" y1="450.20" x2="409.60" y2="450.20" stroke="#333" stroke-width="1.1" /><line x1="407.80" y1="444.34" x2="409.60" y2="444.34" stroke="#333" stroke-width="1.1" /><line x1="406.10" y1="439.10" x2="409.60" y2="439.10" stroke="#333" stroke-width="1.1" /><line x1="407.80" y1="404.63" x2="409.60" y2="404.63" stroke="#333" stroke-width="1.1" /><line x1="407.80" y1="384.47" x2="409.60" y2="384.47" stroke="#333" stroke-width="1.1" /><line x1="407.80" y1="370.16" x2="409.60" y2="370.16" stroke="#333" stroke-width="1.1" /><line x1="407.80" y1="359.07" x2="409.60" y2="359.07" stroke="#333" stroke-width="1.1" /><line x1="407.80" y1="350.00" x2="409.60" y2="350.00" stroke="#333" stroke-width="1.1" /><line x1="407.80" y1="342.34" x2="409.60" y2="342.34" stroke="#333" stroke-width="1.1" /><line x1="407.80" y1="335.70" x2="409.60" y2="335.70" stroke="#333" stroke-width="1.1" /><line x1="407.80" y1="329.84" x2="409.60" y2="329.84" stroke="#333" stroke-width="1.1" /><line x1="406.10" y1="324.60" x2="409.60" y2="324.60" stroke="#333" stroke-width="1.1" /><text x="385.60" y="329.60" font-size="13" text-anchor="end" fill="#000">10</text><text x="385.90" y="323.30" font-size="8.8" text-anchor="start" fill="#000">−11</text><text x="385.60" y="444.10" font-size="13" text-anchor="end" fill="#000">10</text><text x="385.90" y="437.80" font-size="8.8" text-anchor="start" fill="#000">−12</text><text x="385.60" y="558.60" font-size="13" text-anchor="end" fill="#000">10</text><text x="385.90" y="552.30" font-size="8.8" text-anchor="start" fill="#000">−13</text><line x1="409.60" y1="357.90" x2="612.10" y2="554.30" stroke="#000" stroke-width="2" /><circle cx="505.0" cy="448.3" r="7.9" fill="none" stroke="#000080" stroke-width="2.3"/><circle cx="532.9" cy="479.4" r="7.9" fill="none" stroke="#9400d3" stroke-width="2.3"/><circle cx="573.7" cy="513.2" r="7.9" fill="none" stroke="#8b0000" stroke-width="2.3"/><line x1="523.10" y1="365.90" x2="538.80" y2="365.90" stroke="#000" stroke-width="2.2" /><path d="M550.80,363.40 C548.05,363.00 547.19,364.93 546.50,365.80 S545.21,368.70 543.92,368.70 C542.63,368.70 542.20,367.25 542.20,365.80 C542.20,364.35 542.63,362.90 543.92,362.90 C545.21,362.90 545.81,364.93 546.50,365.80 S548.05,368.60 550.80,368.20" fill="none" stroke="#000" stroke-width="0.85"/><text x="555.00" y="370.50" font-size="13" text-anchor="start" font-style="italic" fill="#000">P</text><text x="561.00" y="374.00" font-size="9" text-anchor="start" fill="#000">0</text><text x="564.00" y="364.00" font-size="9" text-anchor="start" fill="#000">−1</text><text x="481.6" y="596" font-size="13">Power, <tspan font-style="italic">P</tspan><tspan font-size="9" dy="3">0</tspan><tspan dy="-3"> (μW)</tspan></text><g transform="translate(361,484) rotate(-90)"><text x="8.30" y="-0.80" font-size="13" text-anchor="start" font-style="italic" fill="#000">S</text><text x="17.50" y="2.20" font-size="9" text-anchor="start" font-style="italic" fill="#000">z</text><text x="17.20" y="-6.50" font-size="8.5" text-anchor="start" font-style="italic" fill="#000">min</text><text x="33.00" y="-0.80" font-size="13" text-anchor="start" fill="#000">(</text><text x="38.50" y="-0.80" font-size="13" text-anchor="start" font-style="italic" fill="#000">m</text><text x="49.50" y="-0.80" font-size="13" text-anchor="start" fill="#000">/</text><text x="66.00" y="-0.80" font-size="13" text-anchor="start" font-style="italic" fill="#000">Hz</text><text x="84.00" y="-0.80" font-size="13" text-anchor="start" fill="#000">)</text><path d="M0,-7.5 L3,-4.5 L5.5,0.3 L8,-15.8 L32,-15.8" fill="none" stroke="#000" stroke-width="1" stroke-linejoin="miter"/><path d="M56.5,-6 L59,-3.5 L61.5,0.3 L63.8,-15.7 L84,-15.7" fill="none" stroke="#000" stroke-width="1" stroke-linejoin="miter"/></g></svg></body></html>
